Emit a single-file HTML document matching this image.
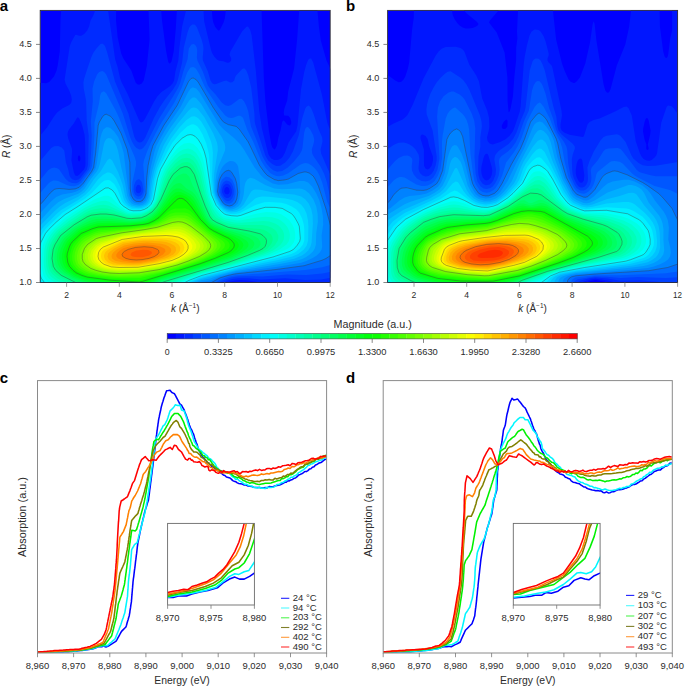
<!DOCTYPE html>
<html><head><meta charset="utf-8"><title>figure</title>
<style>html,body{margin:0;padding:0;background:#fff;width:685px;height:686px;overflow:hidden;font-family:"Liberation Sans",sans-serif}svg{display:block}</style>
</head><body>
<svg width="685" height="686" viewBox="0 0 685 686" font-family="Liberation Sans, sans-serif">
<rect width="685" height="686" fill="#fff"/>
<text x="-0.3" y="10.8" font-size="15.00" text-anchor="start" font-weight="bold" fill="#000">a</text>
<text x="346.0" y="11.0" font-size="15.00" text-anchor="start" font-weight="bold" fill="#000">b</text>
<text x="-0.3" y="382.8" font-size="15.00" text-anchor="start" font-weight="bold" fill="#000">c</text>
<text x="346.0" y="382.6" font-size="15.00" text-anchor="start" font-weight="bold" fill="#000">d</text>
<clipPath id="ca"><rect x="40.2" y="10.4" width="290.0" height="272.1"/></clipPath>
<g clip-path="url(#ca)">
<rect x="40.2" y="10.4" width="290.0" height="272.1" fill="#0000ff"/>
<path fill="#0016ff" d="M61.2 9.4l55 0-.2 11 1.7 17 3.5 16.1 2 4.7 8.1 12.2 4.3 12 1.6 1.8 2 .5 2.6-1.3 1.9-3 3.2-15 2.7-26-1.1-30 12.6 0 .9 11 4 30 2.2 11.3 1 1.9 1-.3 1.3-1.9 2.2-10 2.1-23 1.1-19 34.8 0 .8 9 .8 4 1.9 4.6 3 3.6 1-.1 1-1.2 3.4-6.9 1.2-4 1.2-9 35.5 0 2.3 68 1.7 25 3.4 28 2.3 13.7 1 3.1 2 2.4 1-.5 1.7-3.7 1.5-8 2.1-7 1.7-8.5 1-1.4 1 .3 2.9 3.6 2.1 1.2 1-.3 1-1.9 0-2-1-3.4-2-2.2-4-.2-.5-3.2 .7-4 2.8-8 1-9 5.9-23 3-29 2.2-30 18 0 1.7 18 1.8 13 5.7 20 4.7 10 0 214-78.8 0-6.2-1.5-7-.5-5 .5-4.4 1.5-190.6 0 0-201.6 7 .4 3-1.1 4.8-5.7 2.6-6 1.1-5 2.1-14 .7-32 .7-9zM79.2 155.3l-1 .8-.4 2.3 .4 2 1 1.1 1-1.2 .2-1.9-.2-1.7-.9-1.3z"/><path fill="#002bff" d="M95 10.4l.2-1 12.7 0 7.3 50 2.3 7 2.7 12 1.5 4 5.7 11 11.8 27.2 1 1.5 1 .5 2-1.2 2-2.9 8.9-17.1 3.2-5 3.9-4.1 9-6.3 2.3-2.6 1.6-3 1.3-9 2.9-11 1-12 2.8-22 4.2-17 17.1 0 .8 12 7 29 1 2.8 2 3.3 3 3.2 2 1 4 .5 4 1.6 2-.3 1.3-1.1 .6-1 .1-2-1.7-4 .9-3 11.8-20.2 4-4.2 1-.4 1 .2 2 3.3 1.5 5.3 4.2 36 3.3 39 2.7 18 6.6 26 2.7 4 3 1.5 3 .1 2-.5 2-1.3 1.7-1.8 2.1-4 3.6-10 7.6-11.2 1.3-5.8 3.5-36 3.2-17.4 2-7.2 2-5 1.5-1.4 1.5 .2 2 3.8 8.7 32 5.4 28 1.8 5 2.1 3.7 0 152.6-2.8 .7-32.4 0-5.8-1.5-6-.7-8-.2-15 .5-13-1.9-8-.5-5 .3-4.9 1-3.1 1.2-2.7 1.8-185.3 0 0-147.7 7.8-9.3 7-11 3.2-3.9 5-4 7-3.4 2-2.1 .6-3.6-.7-4-1.9-5-3.7-7-.9-4 5.1-33 1.5-4.2 4-7.3 1-.2 3 1.1 2-.1 3-1.8 3-3.4 1.9-4.1 1.4-6 2.8-5 1.5-4zM226.2 187.1l-1.5 1.3-.6 3 1.1 2.4 2 .8 1.8-1.2 .7-2-.5-2.7-1-1.2-1-.4zM77.2 117.5l-3.5 5.9-4.7 6-1 2-.5 3 .7 4 3.7 10 .2 3-.7 9 2.5 12 1.3 3 2 .6 2-1.2 4.8-5.4 1.2-2.7 .3-3.3-.4-22-.6-7-2.3-8.6-2-5.3-1-2.1-1-.9z"/><path fill="#0041ff" d="M192.7 24.4l1.5 0 1 .6 1.8 2.4 4.6 12 1.4 5 .5 4-.8 9 .2 3 5 11 2.6 9 1.7 2.8 2 1 2-.1 7-2.8 3-.7 4 1.8 2-.1 2.1-1.9 .7-3 1-2 6.2-6.5 2-.7 2 2 2 4.8 3 12.4 3.2 26 .3 8 .6 3 10 31 2.9 5 4 3.6 4 1.9 4-.2 5-3.1 4-4.5 3.7-6.7 5.8-16 3.5-17.2 3-9.5 1-1.8 2-1.4 1.7 .9 1.3 1.9 2.2 5.1 4.9 15 3.9 9 .3 4-1.9 8 .5 4 10.1 23.3 0 101.1-10 1.6-16 .6-20-1.7-24 1.1-13-1.1-10 0-6 .7-4.9 1.4-4.4 2-2.3 2-181.4 0 0-122.2 12-14.1 3-1.9 4-.3 3.5 1.5 2.6 3 1.6 12 2.3 6.8 1.3 6.2 1 2 1.7 1.8 3 1.1 3.4-.9 2.1-2 6.2-8 1.2-5 .6-29-2-15-.6-20-2.4-12-.3-6 .8-4 2.6-8 4.4-13 2-4.3 3-4.3 4-4.5 2-.9 2 1.5 1 1.7 2 6 7.8 28.8 13.4 32 5.8 23 1.4 3 1.6 2 2 1 2-.2 2-1.5 2-2.9 8.5-19.4 5.9-11 4.7-7 8.9-11.2 3.4-5.8 1.3-4 4.2-17 1.7-15 3.7-15 1.7-4.7 1-1.5 2-1.7zM225.2 184.2l-1.4 1.2-1.2 2-.6 3 .1 2 2.1 4 2 1.5 2 .2 2-1.4 1-1.7 .7-2.6-.1-3-1.8-4-1.8-1.3-2-.3zM137.2 185.2l-1.3 2.2-.2 3 .5 1.5 1 1.1 2 .3 1.8-1.9 .3-3-1.1-2.7-1-.8-1-.1z"/><path fill="#0057ff" d="M191.7 44.4l1.5-.4 1 .2 1.4 1.2 1.1 2 .5 3-.3 7 .5 3 5.4 11 5.1 14 2.3 3.4 5.4 5.6 6.1 8 3.5 2.8 3 .9 3-1 8-6.2 2-.1 1 .5 2 2.2 2 3.9 2 5.8 2.8 15.2 6.2 15.2 5.3 14.8 4 7 3.7 4.3 3 2.6 4 1.5 5-.9 5.6-3.5 6.1-6 5.7-7 2.2-4 .7-3 1.7-15 1-3.5 1-1.4 1-.5 1 .2 2 2.2 3 5.8 1 4.2-.3 3-2.1 7 .4 4 1.5 3 6.8 10 3.7 7.6 2.8 8.4 3.1 15 1.1 2.6 0 71.7-9 1.9-16 1.4-19-.4-25 1.8-16-.2-9 .4-6 1-7 2.1-4 2-2.8 2.7-178.2 0 0-103.1 9-11 3-2.1 3-.8 3 .8 2 1.4 6.1 8.8 3.2 3 3.7 1.7 4 .1 2-.7 2.5-2.1 8.3-11 1.1-4 1-14 .6-16-.9-14 2-20-.3-13 1.6-7 3.1-7.1 2-2.3 3-1 2 .9 2 2.5 16.6 39 7.1 23 2 5 2.3 4 2 2.3 3 1.7 2-.2 2-1.3 3-3.8 12.9-25.7 14.1-22.1 5.1-8.9 2-5 3-11 4.2-12 1.3-11 2.4-3.7zM225.2 180.9l-2 1.5-1.7 3-1 4-.1 3 1 3 2.8 3.9 2 1.5 2 .4 2-.7 2-2.3 1.4-3.8 .2-4-.9-4-1.7-3.3-2-1.9-3-.6zM138.2 179.2l-2 1.4-1 1.6-1.2 3.2-.4 4 .5 3 1 2 1.1 1.1 2 .9 2-.4 1.6-1.6 1-2 .5-3-1.1-6.3-1-2.1-2-1.8z"/><path fill="#006dff" d="M190.8 67.4l2.4-.5 2 1.1 1.3 1.4 2.7 4.7 5 11.3 2.7 5 11.3 16.7 7 8.4 3 2 3 .6 2-.3 5-2 2 0 2 1.1 1 1.3 3.9 11.2 6.1 12.4 7.8 18.6 4.2 6.8 5 5.7 3 1.9 3 1.2 3 .3 4-.7 5-2.3 12-8.6 3-1.3 2-.3 3 .5 3 1.6 3 2.5 3 3.5 2.3 4.2 2.7 7 5 19.3 2 4.5 2 3.2 0 55.4-9 2.5-17 2.7-71 5.5-6 1.3-7.6 2.6-3.3 2-3.4 3-174.7 0 0-90.2 9-10.4 2-1.7 3-1.5 2-.2 3 .6 8 3.8 4 1.2 4 .3 4-1.2 3.3-2.7 8.9-12 1.5-4 1.4-14 1.1-17 .1-13 4.5-19 1.2-8.1 1-2.6 2-1.3 1 .2 2 1.7 10 18.3 3 6.5 8.8 23.3 6.9 16 1.1 4 0 4-3.7 17-.2 9 1.1 3.7 2 2.7 2 1.2 3-.1 2-1.5 1-1.3 1.5-4.7 .1-5-1.6-22 .7-4 2.8-8 3.7-9 9.9-19 12.9-19.9 3-5.4 5.6-11.7 5.4-14.9 3-4.7zM225.2 177.1l-3 2.5-1.6 2.8-1.3 5-.3 5 1.2 3.7 3.5 5.3 2.5 1.9 3 .5 3-1.5 2-2.9 1.3-5 .1-4-1.2-6-2.2-4.6-3-2.6-3-.5z"/><path fill="#0082ff" d="M191.2 78.4l1-.4 2 .3 2 1.4 2 2.4 15 25.4 9 13.2 2 1.7 4 2.2 8 1.8 3 2.7 9 12.8 11.3 23.5 5 7 2.8 3 6.9 4.1 4 1.1 6-.6 4-.9 10-5.6 6-1.6 2 .1 3 1 4 3 4 7.3 4 10.3 9.1 30.8 .9 9.9 0 20.7-5.1 3.4-3.9 1.8-18 5.5-28 3.8-41 4.4-6.9 1.5-8.1 2.4-9 4.8-7 .7-3.6 1.1-161.4 0 0-79.2 3-2.6 8-9.6 4-3.5 2-.7 3-.3 10 .9 6-.5 4-1.6 4-4 8.5-11.9 2-4 2-15 2.5-26.8 1.5-4.2 3.5-5.5 1-1 2-.7 2 .6 3 2.2 3 3.9 7 12.6 6 15.9 2.2 10 .5 5 .3 24 .7 6 1.9 4 2.4 2.5 3 .8 3-.4 1.4-.9 1.6-2 1.6-4 1-17 1.3-12 2.8-13 2.1-7 10.8-20 13.4-20 11-23.4 1-1.7 2-1.9zM228.2 170.4l-2 .5-2 1.3-2 2.3-2 3.5-1.7 5.4-.9 8 .9 4 4.1 7 2.6 2.3 4 1.3 3-.7 3.2-2.9 1.5-4 .9-6-1.1-9-1.4-5-3.5-6-1.6-1.5-1.7-.5z"/><path fill="#0098ff" d="M193.2 87.4l3 1.1 3 3.6 20 32.7 4 4.2 11.4 9.4 5.6 5.9 4 5.7 10.4 17.4 6.5 8 3.1 3 8.5 5 5.5 1.4 9-.5 12-3.2 5-.1 4 1.6 4 4.1 4 6.6 3 6.8 2.4 8.3 1.3 8 .3 8-1.6 11 .6 11-.6 3-1.8 3-3.1 3-4.5 2.8-6 2.8-5 1.7-22 3.9-43 5.8-16.2 4-8.8 3.8-10 1.7-5.2 2.5-156.8 0 0-70.2 12-12.9 5-4.3 5.9-2.6 10.1-1.7 4-1.1 4-2.1 3.2-3.1 4.8-7.4 5.8-7.6 1.6-3 1.2-5 3.5-25 1.3-5 1.8-4 2.8-2.2 2 0 2 .8 4 3.4 4 5.8 3 7.2 2.4 8 5.1 41 .8 3 2.1 4 2.6 2.4 4 1 4-.7 3.1-2.7 1.9-4.9 1.5-16.1 2-12 3.8-16 2-6 10-18 13.8-20 7.9-15.4 2-2.9 2-1.5zM229.2 161.3l-3 1.6-2 1.8-2 2.6-2.2 4.1-2.8 9.3-.8 10.7 1.3 5 4.5 7.6 4 2.9 4 .9 2-.3 2.4-1.1 3.2-3 1.5-4 1-7-.7-16-1.5-10-.9-2-2-2.2-2-1-3-.1z"/><path fill="#00aeff" d="M193.1 97.4l1.1-.1 2 .9 5 5.7 14 23.2 6.8 10.3 2.7 6 .6 4-.3 3-6.8 16.4-1.7 6.6-1.1 8-.1 9 .5 4 2.4 5.3 2.8 4.7 4.2 3.5 4 1.5 2.4 0 2.6-.6 4.1-2.4 2.5-3 1.7-4 1.2-5 .8-8 1-4 1.8-3 2.9-1.6 4 .9 11 6.3 9 3.4 8 .8 17-.6 3 .5 3 1.2 4 3.2 4.2 5.9 2.8 6.9 1.4 7.1 .3 8-1.7 12-.3 11-1.1 4-1.9 3-3.1 3-3.6 2.5-4 2-5 1.7-16 3.2-45 7.3-17.4 4.3-8.6 3.1-9 1.8-5.3 2.1-3.3 2-153.4 0 0-63.3 2-1.7 11-12 6-5.1 6-3.3 14-5.3 3.5-2.3 3-3 6.5-10 5.6-7 1.6-3 1.6-5 3.8-19 1-3 1.4-2.2 2-1.3 3 .5 3 2.9 2.5 5.1 1.5 5 3.1 16 3.9 16 1.9 12 2 5 2.5 3 2.6 1.4 5 .6 4-.9 3-2.4 2.2-4.7 2-17 1.9-10 5.2-18 2.5-7 4.2-7.8 6-9.7 12-16.5 7-10.8 3-2.9z"/><path fill="#00c3ff" d="M193.9 107.4l2.3 .6 2 1.4 6 7.5 9.1 16.5 3.7 9 .7 4 .1 4-3.5 22-.5 8 .3 10 1.3 6 4.8 8.7 4 3.7 4 1.8 4 .3 5-1.2 3.6-2.3 2.9-3 7.5-12.9 2-1.5 2-.6 5 .3 16 3.4 18 1.4 7 2 4 2.7 3.5 4.2 2.5 5.5 1.4 6.5 .3 8-1.3 19-1.1 4-2.4 4-2.9 2.8-3.2 2.2-7.8 3.3-14 3-42 7.7-37 9.6-6.3 2.4-5.2 3-150.5 0 0-57.8 14.9-15.2 5.1-4.5 6-3.8 13-6.3 6.1-4.4 3.5-4 5.9-9 6.8-8 6.7-10.9 2-1.7 1 0 2 1.8 6 12 4.4 11.8 2.8 13 2.6 5 3.3 3 4.9 1.4 5-.2 4.8-2.2 2.2-2.5 1.5-3.5 2.4-18 2-9 2.4-8 7-18 6.7-11.4 8-11.1 10-12 3-2.6 2-.9z"/><path fill="#00d9ff" d="M192.1 116.4l2.1-.1 2 .6 2 1.4 3 3.2 5.3 8.9 4.5 11 1.2 5 .7 6-.8 24 1.1 16 2 6.1 2.5 4.9 2.1 3 3.4 3.2 4 2.2 4 .6 5-.3 4-1.5 3.5-2.2 11.5-9.8 3-1.3 4-.7 6 .2 17 1.8 7 1.4 5 2 4 2.8 3 3.7 2.3 4.9 1.5 7 .4 6-.3 14-1.4 5-2.8 4-5.7 4.6-6 2.6-14 3.3-37 7.5-24 6-17.9 5-9.1 3.9-3.2 2.1-147.8 0 0-52.3 4.9-5.7 12.1-12.1 5-4.4 17-9.9 7-5 4.6-4.6 8.4-11.1 5-4.5 4-2.2 2-.1 2 .7 2 1.5 3 3.9 4 8.2 3.6 12.6 1.7 3 2.8 3 3.9 2.2 6 .7 4-.6 4.7-2.3 2.6-3 1.7-4 2.8-19 2.9-11 9.3-21.4 5-8.4 8-10.8 7-7.6 5-3.5z"/><path fill="#00efff" d="M191.4 124.4l1.8-.1 2 .6 2 1.4 1.9 2.1 3.5 6 3.7 9 2.7 11 1.6 26 1.6 13 3.6 9 3.4 5 4 3.8 3 1.8 4 .9 5 .2 5-1 16-8.4 8-2.5 5-.2 12 .8 5 1.2 5.6 2.4 4.4 2.8 2.9 3.2 3 6 1.7 6 .5 5 0 11-1.4 4-3.1 4-4.6 3.9-4 1.8-15 4.1-36 8.2-10.1 3-27.9 6.9-12.9 5.1-4.9 3-143.2 0-2-2.5 0-43.5 4.5-7 2.5-3.1 16-15.2 23-14.7 7.2-6 8.8-9.5 3-2.1 2-.6 2-.1 2 .5 4 3.4 3.3 5.4 4.6 12 2.3 3 3.8 3.1 4 1.7 7 .3 4-.8 4.3-2.3 2.7-2.8 2-4.2 3.7-21 3-10 10.1-20 3.2-5.3 8-10 7-6.6 4-2.1z"/><path fill="#00fffa" d="M186.8 135.4l2.4-.7 2-.1 4 1.8 3 3.2 4 6.7 2.7 7.1 1 4 5.4 37 4.2 10 3.7 4.9 4 3.8 2 1.2 4 1.1 7 .7 4-.5 14-5.2 12-3.2 13 .5 5.1 1.7 5.9 3.4 3 2.5 4 6.3 2.1 4.8 .9 10-.2 4-1.4 3-4 5-2.4 1.9-2.3 1.1-14.9 5-73.8 19.2-12.4 4.8-7.3 4-135.6 0-4.5-6-2.2-5.7 0-24.5 1.3-4.8 2.4-5 2.6-5 3.3-4 7.4-7.2 9-7.7 14-8.8 24-16.5 3-1.4 3 .3 4 2.8 2 2.8 5.2 9.7 3.3 3 5.5 3.5 4 .9 7-.1 4-1.2 3.8-2.1 3-3 2.2-4.2 4.6-22.8 2.4-7.1 2-4.3 12-19.7 7-7.3 5-3.4z"/><path fill="#00ffe4" d="M184.8 143.4l4.4-.6 4 1.3 4 3.4 3.8 5.9 1.6 4 1.9 7 4.8 27 1.3 5 4.5 10 6.1 7.1 2.3 1.9 2.7 1.2 11 1.7 4-.5 15-4 10-1.7 9 .5 6 1.7 5 3.1 3 2.7 3.1 4.3 1.9 4 1 5-.1 5-1.4 4-3 4-2.7 2-3.9 2-12.4 5-32.5 9-10 3.2-28 7.1-14 5.3-9 4.4-127.1 0-4.4-4-1.6-2-1.6-3-1.6-7-.4-7 .8-13 1.1-5 2.8-6.1 2.4-3.9 4.5-5 13.1-11.4 18-11.7 11-6.2 9-3.4 4 0 3 1.4 8 8.4 5.7 3.9 4.3 2.2 4 .5 7-.2 3-.8 5-2.6 3.4-3.1 2.7-5 5-22 2.1-6 2.3-5 6.5-10 6-7.9 4-3.6 4-2.3z"/><path fill="#00ffce" d="M183.3 149.4l4.9-.8 4 1.2 4 3.3 2.9 4.3 2.1 4.8 2 6.7 4.7 22.5 1.6 6 4.4 10 6.6 8 2.7 2 3 1.1 11 2 4-.2 14-2.6 10-1 7 .5 6 1.8 3 1.7 3.3 2.7 2.7 3.3 1.8 3.7 .9 4-.3 4-1 3-2.1 3-6.8 5-11.5 5.4-39 11.8-29 7.5-14.3 5.3-11.5 5-117.1 0-8.4-6-1.7-2-1.5-3-1.5-6-.4-7 .6-11 1.1-5 2.2-5 3.1-5 4.4-5.1 12-10 17-11.2 8-4.2 8-2.6 5-.5 4 .9 12.1 7.7 5.9 3 3 .9 10-.2 3-.9 5-2.5 3.9-3.3 3.4-6 5.7-22 4-9.5 5-7.3 5-6.1 4-3.8 4-2.3z"/><path fill="#00ffb8" d="M182.4 154.4l3.8-1 4 .6 4 2.6 3 3.8 2 4 2.4 7 5.1 22 1.9 6 3.9 9 3.2 5 2.7 3 5.8 3.5 10 2.5 7 .3 22-1.8 6 .6 5.9 1.9 3.1 1.9 2.4 2.1 2.1 3 1.2 3 .3 3-.5 3-1.5 3-1.5 2-3.4 3-4.3 3-7.8 3.7-36 11.4-29.4 7.9-25.1 9-4.5 2-106.2 0-8.8-4.6-4.4-3.4-2.8-4-1.7-6-.4-8 .7-9 1.3-5 2.3-4.9 3.3-5.1 3.7-4.1 12-9.6 15-10 6-3 7-2.1 6-.8 5 .7 17.6 7.9 4.4 1.2 10-.3 4-1.3 4-2.1 4.3-3.5 3.7-6 2.4-7 4.5-16 3.6-8 3.5-4.9 5-5.8 4-3.5 3-1.7z"/><path fill="#00ffa3" d="M182.8 158.4l3.4-.7 4 .8 3 2.1 3 3.9 4 9.7 4.7 19.2 3 9 4.3 9.6 2 3.3 1.9 2.1 6.8 4 8.3 2.7 9 .9 22 0 5 .9 4 1.5 3 1.8 2 2 2.1 4.2 .1 2-.5 3-3.2 5-5.9 5-6.4 3-33.2 11-31 8.6-27.6 9.4-4.7 2-96 0-12.3-6-5.4-4.3-2.5-3.7-1.4-5-.5-7 .8-8 1.2-5 1.9-4 3.7-6 3.8-4.3 11.3-8.7 13.7-9 5-2.7 5-1.4 7-1 6 .3 6 1.6 13 4.9 5 .9 10-.7 7-3.2 5-4.1 4.1-6.6 2.4-6 5.1-16 3.4-7.3 7-8.5 4-3.3 3-1.7z"/><path fill="#00ff8d" d="M183.1 162.4l4.1-.4 3 1 2.8 2.4 2.2 3.5 3 7 4.6 17.5 3.1 9 5.2 12 2.6 4 6.5 3.7 9 3.6 9 1.4 22 1.9 4 1 3 1.4 3.8 3 1.2 2 .5 2-.1 2-1.1 3-3.9 5-4.9 3-31.5 11.2-33 9.5-31.9 10.3-4.4 2-86.8 0-14.9-7.1-3.9-2.9-3-3-2.3-4-.8-5-.3-6 1-7 1.2-4 3.3-6 2.8-4.3 3-3 11-8.4 12-7.7 4-2.3 4-1.3 9-1.1 5 .1 8 1.5 13 3.9 4 .5 10-.8 6-2.6 6-4.4 4.3-6.1 2.9-6 6.8-18.2 3-5.8 6.4-7 5.6-3.7z"/><path fill="#00ff77" d="M181.8 167.4l3.4-.9 3 .5 2.1 1.4 2.9 4 2 4.1 3.6 11.9 6.5 18 4.6 10 2.3 3.3 4.4 2.7 11.6 4.9 22 3.9 8 1.8 3 1.3 3.7 3.1 1.6 3-.5 4-1.7 3-2.7 2-8.9 4-21.4 8-66.2 20-3.9 1.5-2.5 1.5-79.2 0-17.3-8.5-3.5-2.5-3.8-4-1.7-3.3-1.1-6.7 0-4 1-6 1.5-4 3.9-7 2.2-3 2.5-2.3 12-9.1 12-7.2 4-1.6 9-1.2 6 0 8 1 13 3.3 4 .3 10-.8 6-2.5 6-4.3 4.3-5.6 3.4-6 7.3-16.7 4-7.3 5-5 4-2.7z"/><path fill="#00ff62" d="M183.5 173.4l2.7 .4 3 2.8 3.5 8.8 5.5 9 8.7 20 2.1 4 2.2 2.7 3.7 2.3 12.3 5.4 19 4.4 9 3.3 3 2.1 2 2.8 .4 3-1.9 3-8.3 5-19.2 7.8-68 20.6-4.3 1.6-3.1 2-71.6 0-13-5.7-6-3.3-4.3-3-3.6-4-2-4-1-6 .5-6 1.4-5 6-10.5 11-9.2 14-8.3 3-1.4 4-.9 8-.7 8 .3 20 3.2 10-.6 5-1.5 7-4.4 4.7-5 4.5-7 7.8-15.3 5-7.1 4-3.4 5-2.2z"/><path fill="#00ff4c" d="M177.2 183.4l2-.3 2 .5 5.3 4.8 5.7 3.4 2.7 2.6 3.3 5.3 7.8 16.7 2.6 4 1.9 2 3.7 2.4 11 4.8 16.1 4.8 7.9 3.4 3.6 2.6 1.3 2 .3 2-1.5 3-2.3 2-4.9 3-13.5 6-31.4 10-38.6 11.5-6.3 2.5-3.1 2-60.8 0-8.8-2.4-11-4.5-8-5-4-4.1-2.2-4-1.2-5 .1-5 1.4-6 2.9-6 3-4.5 11-9.3 5-3.2 8-4 4-1.5 4-.8 7-.4 8 .3 19 2.2 10-.7 5-1.2 6-3.4 5-4.6 5.6-7.9 8.4-14.2 3-3.4 3-2z"/><path fill="#00ff36" d="M176.9 188.4l2.3 0 2 .6 9 5 3 2.5 3 4.2 8.6 16.7 2.9 4 3.1 3 3.4 2 10 4.5 15.5 5.5 6.6 4 1.7 2 .6 2-.5 2-1.4 2-5.3 4-10.4 5-30.6 10-39.2 11.6-6.2 2.4-5.5 3-45.6 0-15.7-2.7-6-1.6-9-3.7-7.3-5-3.6-4-2-4-1.1-5 .3-5 1.4-5 2.9-6 2.4-3.5 11-9.5 4-2.4 8-3.6 8-2.2 13-.3 20 1.5 11-.8 5-1.2 5.3-3 4.7-4 4.7-6 9.3-14.1 3-3.2 3-1.6z"/><path fill="#00ff21" d="M175.6 192.4l2.6-.6 3 .4 5 2.2 4 2.7 4 4.7 8.8 15.6 5.2 6.4 3 2.5 3 1.6 10 4.6 10.1 3.9 5.2 3 2.3 2 1.3 2 .3 2-1.4 3-4.8 4-8 4-29.5 10-40.2 12-7.9 3-6 3-28.5 0-29.9-4.4-5.6-1.6-7.4-3.2-5.4-3.8-3.9-4-2-4-1.1-5 .1-4 1.3-5 2.6-6 1.9-3 10.5-9.5 4-2.3 7-2.9 8-2.5 11-.4 22 .8 12-1 5-1.2 5.4-3 4.9-4 3.3-4 10.4-14.5 4-3.3z"/><path fill="#00ff0b" d="M176.6 195.4l2.6-.6 3 .4 4 1.9 2.8 2.3 3.3 4 9.4 15 4.5 5.2 4 3.7 11 5.6 10.4 4.5 4.4 3 1.8 2 .9 2-.1 2-1.8 3-3.6 3-3 1.7-17 6.5-17 5.7-38 11.4-18.6 6.7-4.5 0-24.9-2.7-24-3.3-11-4.4-4.7-3.6-3.6-4-1.6-4-1-6 .6-4 2.1-6 1.4-3 2.2-3 9.6-8.6 12-5.1 6-1.6 10-.4 22 0 13-1.2 4.7-1.1 5.8-3 5.1-4 13.4-16.5 4-3.3z"/><path fill="#0bff00" d="M179.4 198.4l1.8-.1 2 .6 3.4 2.5 4.6 5.4 9.2 12.6 8.8 8.8 4 2.5 15.6 7.7 2.7 2 2.4 3 .4 2-.5 2-2.3 3-2.9 2-13.8 6-15.6 5.7-56 17.1-4 .8-29-1.8-23-3.1-5.3-1.7-5.7-2.6-3-2.4-3.7-4-1.7-4-.8-6 .3-3 1.9-6 1.3-3 1.7-2.5 9-8.4 11-4.7 6-1.8 32-1.2 13.6-1.4 4.6-1 6.3-3 4.4-3 16.1-16.3 2-1.7 2-1z"/><path fill="#21ff00" d="M181.5 208.4l3.7-.2 4 1.7 4 3.7 6.8 7.8 8.2 7.8 18.8 11.2 1.8 2 .9 2-.1 2-.9 2-2.5 2.2-10.7 5.8-16.3 6.5-37 11.3-19 5.2-4 .7-29-1.2-22-3-5-1.6-6-2.9-3.3-3-2.8-4-1.2-4-.3-5 2.6-9 1.7-3 2.7-3 4.1-4 3-2 10.5-4.3 5-1.3 32-2.1 17-2.2 5.4-2.1 4.6-2.5 10-8.1 3-1.9 4-1.3 6-.2z"/><path fill="#36ff00" d="M171.2 213.4l4-.8 9 0 3 .5 3 1.5 17 15.7 15.1 10.1 1.9 2 .8 2-.6 3-2.9 3-7.3 4.8-15 6.5-20 6.5-16 4.6-23 5.3-18 .1-10-.4-11-1.2-11-1.8-5-1.4-6.2-3-2.8-2.4-2.6-3.6-1.2-4-.3-4 .5-4 1.3-4 1.5-3 3.1-4 3.7-3.6 3-1.9 8-3.5 6-1.8 33-3 16-2.1 10.3-4.1 11.7-7.6z"/><path fill="#4cff00" d="M174.2 215.4l6-.2 5 .4 3 1 3 1.8 14.9 13 12.2 9 1.6 2 .8 2-.1 2-1.1 2-2.8 3-4.5 3.1-9 4.4-8 3-18 5.9-15 4.2-22 4.5-22 .4-11-.8-9-1.2-9-1.9-5-1.9-5-3-3-3.7-1.4-4-.3-4 .5-4 1.4-4 2.4-4 2.5-3 2.9-2.4 4.5-2.6 6.5-2.9 5-1.2 40-4.7 9-1.5 8.2-2.7 11.8-6.5 5-1.5z"/><path fill="#62ff00" d="M177.6 217.4l6.6 .5 5 2 24.5 19.5 2.6 3 .7 2-.3 3-2.1 3-3.7 3-7.4 4-17.3 6.6-12 3.8-13 3.5-21 3.7-21 .7-10-.5-9-1.1-9-2.1-4.3-1.6-5.7-3.4-2.9-3.6-1.2-4-.1-4 .8-4 1.8-4 1.9-3 3-3 8.7-5.2 5-1.8 7-1.3 44-6.1 10-2.9 11-5.3 7-1.4z"/><path fill="#77ff00" d="M172.3 220.4l4.9-.8 5 .2 4 1.2 5 3 15.7 12.4 5.3 5 1.2 2 .5 2-.4 2-1.1 2-3.1 3-7.1 4.2-17.4 6.8-10.6 3.4-13 3.4-21 3.6-21 .8-10-.5-8-1.1-8-2-4.3-1.6-5.7-3.6-2.7-3.4-.9-4 0-4 .7-3 2-4 3.9-4.6 9-5.6 5-1.5 20-3.7 30-4.3 9.3-2.3 12.7-5z"/><path fill="#8dff00" d="M173 222.4l5.2-.7 4 .4 4 1.5 5 3 12.7 9.8 4.9 5 1.3 2 .6 2-.3 2-1 2-3.3 3-6.5 4-11.4 4.7-11 3.9-17 4.4-21 3.4-20 .7-9-.4-8-1.1-6.1-1.6-5.3-2-5.6-4-2.2-3-.7-3 0-4 2.2-6 3.1-4 8.6-5.8 5-1.5 20-4.2 23-3.2 13-2.4 15-4.7z"/><path fill="#a3ff00" d="M173.9 224.4l5.3-.4 5 1.2 5 2.7 10 7.5 4.6 4 2.9 4 .6 3-1.3 3-3.1 3-4.5 3-11.3 5-11.1 4-16.8 4.3-21 3.1-20 .7-8-.4-8-1.3-7-2.2-4-2.1-3.6-3.1-2-3-.6-3 0-3 .8-3 1.4-3 1.5-2 3.4-3 6.1-3.8 23-5.6 37-5.6 15-3.9z"/><path fill="#b8ff00" d="M169 227.4l6.2-.9 5 .1 4 1.3 5 2.7 9 6.8 3.9 4 1.7 4-.2 2-1 2-2.9 3-4.8 3-8.3 4-11.4 4.3-16 4-21 3.2-21 .6-7-.5-7-1.2-6-2-4.4-2.4-3.1-3-1.6-3-.5-5 1.8-5 4.4-5 5.4-3.4 23-6.1 37-5.3 9-2z"/><path fill="#ceff00" d="M169.1 229.4l6.1-.5 5 .3 4 1.4 5 2.8 6.4 5 3.5 4 .9 2 .2 2-1.1 3-2.8 3-6.4 4-8.7 4-7 2.6-15 3.7-21 3.3-21 .5-6-.4-6-1-5-1.6-4.2-2.1-3.5-3-1.8-3-.6-4 1.3-5 4.1-5 4.8-3 22.9-6.7 23-3.3 14-1.5 8-1.4z"/><path fill="#e4ff00" d="M169.8 231.4l6.4-.1 4 .6 5 1.9 4.1 2.6 4.4 4 2.5 4 .1 3-1.6 3-3.2 3-4.6 3-6.1 3-7.8 3-13.8 3.3-22 3.5-20 .3-10-1.1-5-1.5-4-2.1-2.9-2.4-2-3-.7-4 .6-3 .9-2 3.1-4 5-2.9 17-5.7 5-1.2 21-2.9 24-2.3z"/><path fill="#faff00" d="M153.3 234.4l16.9-.9 7 .6 4 1 5 2.4 4.2 3.9 2 4-.3 3-1.9 3-3.2 3-6.9 4-6.9 2.8-14 3.5-21 3.5-20 .3-9-.8-4.4-1.3-4-2-2.6-2-2.2-3-.8-4 1-4 2.9-4 3.1-2 21-7.4 20-2.8 10-.8z"/><path fill="#ffef00" d="M143.5 236.4l22.7-.9 6 .5 6 1.1 5 2.2 2.7 2.1 2.2 4 0 3-1.3 3-3.1 3-4.7 3-6.8 3-13 3.3-21 3.6-19 .2-8-.6-7.1-2.5-2.9-2-2.4-3-.8-3 .6-4 1.8-3 2.8-2.3 19-7.7 21-3z"/><path fill="#ffd900" d="M157.2 237.4l12 .5 6 1.2 3.4 1.3 3.1 2 1.6 2 1 3-.5 3-1.3 2-3.3 3-3.4 2-5.6 2.4-14 3.5-19 3.2-19-.2-7-.8-3.3-1.1-3.5-2-2-2-1.1-2-.4-2 .4-3 .9-2 1.8-2 16.5-8 4.7-1.3 16-2.1 16-.6z"/><path fill="#ffc300" d="M141.3 239.4l19.9-.1 5 .4 5 1.1 4.4 1.6 2.9 2 1.8 3-.2 3-1.1 2-1.9 2-3 2-4.9 2.3-14 3.7-17 3-11 .1-14-1.1-5.1-2-3.1-3-.8-2-.2-2 1.1-3 2-2 4.9-3 7.2-3.8 4-1.5 18-2.7z"/><path fill="#ffae00" d="M136.9 241.4l7.3-.6 7 0 9 .4 6 .9 4.2 1.3 3.6 2 1.7 2 .4 3-1 2-1.9 2-6 3.3-12.7 3.7-15.3 2.8-8 .3-14-1.1-5-1.3-3.6-2.7-1.1-3 .7-2.8 1.9-2.2 4.1-3 9-4.6 13-2.3z"/><path fill="#ff9800" d="M134.4 243.4l12.8-.9 14 1.2 4 1 3.6 1.7 2 2 .5 2-.7 2-2 2-5.9 3-9.3 3-12.2 2.3-8 .6-11-1-7-1.6-3.1-2.3-.6-2 .4-2 1.3-2 3.5-3 7.5-3.9 10-2.1z"/><path fill="#ff8200" d="M144.1 244.4l9.1 .5 7.1 1.5 3.9 2 1 1.3 .2 1.7-2.3 3-5.4 3-7.5 2.4-10 1.7-8 .2-9-1.2-5-1.9-1.9-2.2 .1-2 1.3-2 2.1-2 3.4-2.1 8-2.4 12-1.5z"/><path fill="#ff6d00" d="M135.8 247.4l8.4-.7 8.2 .7 5.1 2 1.1 1 .4 2-1.4 2-3.4 2.2-5.2 1.8-6.8 1.2-6 .4-6.6-.6-3.8-1-3.2-2-.5-2 1.1-2 1.2-1 3.8-2 7-1.9z"/><path fill="#ff5700" d="M137 250.4l6.2-.7 5 .4 3 1.3 .7 1-.1 1-2.6 2.1-7 1.8-7-.2-2.6-.7-1.6-1-.5-1 1.4-2 4.3-1.8z"/>
<path fill="none" stroke="#3a3a3a" stroke-opacity="0.75" stroke-width="0.55" d="M228.2 170.4l-2 .5-2 1.3-2 2.3-2 3.5-1.7 5.4-.9 8 .9 4 4.1 7 2.6 2.3 4 1.3 3-.7 3.2-2.9 1.5-4 .9-6-1.1-9-1.4-5-3.5-6-1.6-1.5-1.7-.5zM39.2 205.2l3-2.6 8-9.6 4-3.5 2-.7 3-.3 10 .9 6-.5 4-1.6 4-4 8.5-11.9 2-4 2-15 2.5-27 1-3 3-5.1 2-2.4 2-.7 4 1.9 2 1.9 2 2.9 6.9 12.5 6.1 16 2.6 13 .4 26 1 7 2.3 4 2.7 2 4 .2 2.4-1.2 2.1-3 1.3-4 .7-15 1.4-13 2.8-13 2.1-7 10.8-20 13.4-20 11.4-24 2.6-3 2-.4 3 1.7 2 2.4 15 25.4 9 13.2 2 1.7 4 2.2 8 1.8 3 2.7 9 12.8 11.3 23.5 5 7 2.8 3 6.9 4.1 4 1.1 6-.6 4-.9 10-5.6 6-1.6 2 .1 3 1 4 3 2 3.2 3.3 7.2 7.3 22 4.7 17 .7 8.9M331.2 255l-5.1 3.4-3.9 1.8-18 5.5-28 3.8-41 4.4-6.9 1.5-8.1 2.4-9 4.8-7 .7-3.6 1.1M39.2 248.2l1.7-5.8 4.6-9 3.3-4 7.4-7.2 9-7.7 13-8.2 27-18.2 3-.3 4 2.2 2.8 3.4 5.4 10 3.3 3 5.5 3.5 4 .9 7-.1 4-1.2 4-2.2 2.8-2.9 2.5-5 4.1-21 3-9 8.6-15.3 5.7-8.7 7.3-7.2 5-3 3-.6 2 .3 3 1.5 3 3.2 3.1 4.8 2.9 6.9 1.9 7.1 5.2 36 4.8 11 5.1 5.9 3 2.5 2 .9 5 1 6 .4 3.6-.7 13.4-5 11-3.1 10 .1 7 1 9 5.1 2.1 1.9 1.9 2.8 2.9 5.2 1.2 3 1 12-.6 3-2.6 4-3.6 4-3.6 2-16.7 5.5-71.2 18.5-13.2 5-7.3 4M45.9 284.4l-4.5-6-2.2-5.7M79.5 284.4l-18.3-9.1-5.5-4.9-2.4-4-1.3-8 1.1-9 2-5 5.6-9 13.5-10.7 13-7.9 4-1.6 9-1.2 6 0 8 1 13 3.3 4 .3 10-.8 5-2 6-3.9 4.7-5.5 4-7 8.3-18.7 3.8-6.3 7.2-6.2 4-1.5 3 0 3.1 1.7 4 6 6.5 20 4.5 12 4.6 10 2.3 3.3 4.4 2.7 11.8 5 20.8 3.6 11 2.8 2.6 1.6 2.9 3 .8 2-.2 3-1.2 3-1.9 2-3.6 2-12 5-19.4 7-63.1 19-3.9 1.5-2.5 1.5M179.4 198.4l1.8-.1 2 .6 3.4 2.5 4.6 5.4 9.2 12.6 8.8 8.8 4 2.5 15.6 7.7 2.7 2 2.4 3 .4 2-.5 2-2.3 3-2.9 2-13.8 6-15.6 5.7-56 17.1-4 .8-29-1.8-23-3.1-5.3-1.7-5.7-2.6-3-2.4-3.7-4-1.7-4-.8-6 .3-3 1.9-6 1.3-3 1.7-2.5 9-8.4 11-4.7 6-1.8 32-1.2 13.6-1.4 4.6-1 6.3-3 4.4-3 16.1-16.3 2-1.7 2-1zM173 222.4l5.2-.7 4 .4 4 1.5 5 3 12.7 9.8 4.9 5 1.3 2 .6 2-.3 2-1 2-3.3 3-6.5 4-11.4 4.7-11 3.9-17 4.4-21 3.4-20 .7-9-.4-8-1.1-6.1-1.6-5.3-2-5.6-4-2.2-3-.7-3 0-4 2.2-6 3.1-4 8.6-5.8 5-1.5 20-4.2 23-3.2 13-2.4 15-4.7zM143.5 236.4l22.7-.9 6 .5 6 1.1 5 2.2 2.7 2.1 2.2 4 0 3-1.3 3-3.1 3-4.7 3-6.8 3-13 3.3-21 3.6-19 .2-8-.6-7.1-2.5-2.9-2-2.4-3-.8-3 .6-4 1.8-3 2.8-2.3 19-7.7 21-3zM135.8 247.4l8.4-.7 8.2 .7 5.1 2 1.1 1 .4 2-1.4 2-3.4 2.2-5.2 1.8-6.8 1.2-6 .4-6.6-.6-3.8-1-3.2-2-.5-2 1.1-2 1.2-1 3.8-2 7-1.9z"/>
</g>
<rect x="40.2" y="10.4" width="290.0" height="272.1" fill="none" stroke="#2a2a3a" stroke-width="0.9"/>
<line x1="36.0" y1="282.5" x2="40.2" y2="282.5" stroke="#555" stroke-width="0.7"/>
<text x="31.9" y="285.0" font-size="9.40" text-anchor="end" font-weight="normal" fill="#2b2b2b" textLength="12.6" lengthAdjust="spacingAndGlyphs">1.0</text>
<line x1="36.0" y1="248.5" x2="40.2" y2="248.5" stroke="#555" stroke-width="0.7"/>
<text x="31.9" y="251.0" font-size="9.40" text-anchor="end" font-weight="normal" fill="#2b2b2b" textLength="12.6" lengthAdjust="spacingAndGlyphs">1.5</text>
<line x1="36.0" y1="214.5" x2="40.2" y2="214.5" stroke="#555" stroke-width="0.7"/>
<text x="31.9" y="217.0" font-size="9.40" text-anchor="end" font-weight="normal" fill="#2b2b2b" textLength="12.6" lengthAdjust="spacingAndGlyphs">2.0</text>
<line x1="36.0" y1="180.5" x2="40.2" y2="180.5" stroke="#555" stroke-width="0.7"/>
<text x="31.9" y="183.0" font-size="9.40" text-anchor="end" font-weight="normal" fill="#2b2b2b" textLength="12.6" lengthAdjust="spacingAndGlyphs">2.5</text>
<line x1="36.0" y1="146.4" x2="40.2" y2="146.4" stroke="#555" stroke-width="0.7"/>
<text x="31.9" y="148.9" font-size="9.40" text-anchor="end" font-weight="normal" fill="#2b2b2b" textLength="12.6" lengthAdjust="spacingAndGlyphs">3.0</text>
<line x1="36.0" y1="112.4" x2="40.2" y2="112.4" stroke="#555" stroke-width="0.7"/>
<text x="31.9" y="114.9" font-size="9.40" text-anchor="end" font-weight="normal" fill="#2b2b2b" textLength="12.6" lengthAdjust="spacingAndGlyphs">3.5</text>
<line x1="36.0" y1="78.4" x2="40.2" y2="78.4" stroke="#555" stroke-width="0.7"/>
<text x="31.9" y="80.9" font-size="9.40" text-anchor="end" font-weight="normal" fill="#2b2b2b" textLength="12.6" lengthAdjust="spacingAndGlyphs">4.0</text>
<line x1="36.0" y1="44.4" x2="40.2" y2="44.4" stroke="#555" stroke-width="0.7"/>
<text x="31.9" y="46.9" font-size="9.40" text-anchor="end" font-weight="normal" fill="#2b2b2b" textLength="12.6" lengthAdjust="spacingAndGlyphs">4.5</text>
<line x1="66.6" y1="282.5" x2="66.6" y2="286.8" stroke="#777" stroke-width="0.7"/>
<text x="66.6" y="298.1" font-size="9.00" text-anchor="middle" font-weight="normal" fill="#2b2b2b" textLength="4.8" lengthAdjust="spacingAndGlyphs">2</text>
<line x1="119.3" y1="282.5" x2="119.3" y2="286.8" stroke="#777" stroke-width="0.7"/>
<text x="119.3" y="298.1" font-size="9.00" text-anchor="middle" font-weight="normal" fill="#2b2b2b" textLength="4.8" lengthAdjust="spacingAndGlyphs">4</text>
<line x1="172.0" y1="282.5" x2="172.0" y2="286.8" stroke="#777" stroke-width="0.7"/>
<text x="172.0" y="298.1" font-size="9.00" text-anchor="middle" font-weight="normal" fill="#2b2b2b" textLength="4.8" lengthAdjust="spacingAndGlyphs">6</text>
<line x1="224.7" y1="282.5" x2="224.7" y2="286.8" stroke="#777" stroke-width="0.7"/>
<text x="224.7" y="298.1" font-size="9.00" text-anchor="middle" font-weight="normal" fill="#2b2b2b" textLength="4.8" lengthAdjust="spacingAndGlyphs">8</text>
<line x1="277.5" y1="282.5" x2="277.5" y2="286.8" stroke="#777" stroke-width="0.7"/>
<text x="277.5" y="298.1" font-size="9.00" text-anchor="middle" font-weight="normal" fill="#2b2b2b" textLength="9.0" lengthAdjust="spacingAndGlyphs">10</text>
<line x1="330.2" y1="282.5" x2="330.2" y2="286.8" stroke="#777" stroke-width="0.7"/>
<text x="330.2" y="298.1" font-size="9.00" text-anchor="middle" font-weight="normal" fill="#2b2b2b" textLength="9.0" lengthAdjust="spacingAndGlyphs">12</text>
<text x="185.2" y="311.5" font-size="10" text-anchor="middle" fill="#2b2b2b"><tspan font-style="italic">k</tspan> (Å<tspan font-size="6.5" dy="-3.6">−1</tspan><tspan dy="3.6">)</tspan></text>
<text transform="translate(9.7 146.4) rotate(-90)" x="0" y="0" font-size="10" text-anchor="middle" fill="#2b2b2b"><tspan font-style="italic">R</tspan> (Å)</text>
<clipPath id="cb"><rect x="387.6" y="10.4" width="290.0" height="272.1"/></clipPath>
<g clip-path="url(#cb)">
<rect x="387.6" y="10.4" width="290.0" height="272.1" fill="#0000ff"/>
<path fill="#0016ff" d="M413.9 9.4l38.5 0-.2 3 .7 3 1.9 4 2.8 4 2 2.1 3 2 3 .9 3 .2 4-.5 3-1.3 2-1.4 .7-1 0-1-1.8-2-9.7-8-3.6-4 36.2 0-9.5 11-.9 2 7.7 10 7.9 20 2.8 25 .2 24.2 1 10.7 1-.8 1-3 2.3-12.1 1.5-20 1.7-16 .1-13 1.2-9-.4-7 1.1-22 34.7 0 3.3 30 5.9 24 2.6 7.4 4 8.6 2 2.3 3 1.4 1-.1 2-1.4 3.3-4.2 5.4-14 4.7-21 2.6-18 1-3.1 1 2.5 1.8 16.6 7.2 44 1.7 6 1.3 1.9 1 .5 1-.3 .9-1.1 1.1-2.4 6.2-23.6 8.5-21 3.9-18 2-17 28.4 0 .3 17 3.3 25 1.4 5.1 1 1.3 1 .3 1-1.3 .6-2.4 2-16 1.9-8 0-21 6.5 0 0 275-66.2 0-8.3-3-8.5-1.3-6.6 1.3-3.4 1.5-2.2 1.5-196.8 0 0-210.1 9 6.4 3 1.5 2-.2 1-.6 2-2 1.7-3 2.6-8 1.3-6 2.9-33 1.7-12 .1-7zM505.6 120.1l-2 1.8-1.8 3.5 0 2 .8 1.3 1 .4 2-.4 1.8-2.3 .2-5.6-1-1.2zM646.6 117.9l-1 1.1-1 3-1.4 6.4-.2 3 1.6 8.3 1.8 4.7-.2 4 .4 1 1 .5 .8-.5 .3-1-.9-4 2.4-10 .4-4-1.9-10-1.1-2.2z"/><path fill="#002bff" d="M535.5 29.4l3.1 .6 2 1.6 3 4.7 2 5.1 3.1 12 0 2-1.2 3 0 2 1.1 2 3 3 .8 2 9.1 43 .5 5-1.5 9 .1 3.6 1.1 2.4 2.9 2.4 5 1.9 13 2.4 1-.6 .5-1.1 3.4-11 2.1-2.5 4-1.8 6-1.7 16-7.1 8-4.2 3-.6 2 1.7 3.2 7.2 4 26 4.2 12 1.5 3 2.1 2.5 3 1.6 3 .3 2-.8 3-2.5 1.6-2.1 .8-2 4.3-31 5.3-15.5 1-1.2 1-.3 3 .9 2 1.7 3 4.4 2 2.1 0 169.9-36.7 0-7.3-.5-12 .4-14.8-3.9-12.2-1.7-4.9 .7-6.8 2-2.3 1.1-2.1 1.9-192.9 0 0-157 7-4 9-4 3-2.3 2-2.4 5-9.7 10.9-26.6 12.1-22.7 3-4.3 3-2.7 4-1.8 10-.2 5 1.3 2.1 1.4 1.7 2 4.8 13 7.1 11 2.7 6 3.2 17 5 12 1.8 7 .4 9-.6 4-1.8 7 .6 3.5 2 2.5 3 1 7-2.1 6-3.1 4-3.4 3.1-4.4 1.9-4.3 5.2-15.7 .8-5 3.1-42 .9-7.2 2.3-11.8 2.7-10.2 2-3.6 3-2zM578.6 159.4l-1 1.5-1 3.3-.8 5.2 0 4 .8 3.7 2 3.9 1.4 1.4 1.6 .4 1-.5 1.2-1.9 .5-5-2-15-.7-1.4-1-.5-1 .2zM421.6 134.8l-1 1.3-.1 2.3 3.4 11 .1 16 1.4 3 2.2 1 2-1 2.1-3 1.3-5-.1-4-3.7-10-1.6-7.3-2-3-3-1.5zM485.6 154.1l-1 1.2-1 2.4-2 8.4-.4 4.3 .4 3.4 1.2 3.6 1.8 2.3 2 .7 2-.7 2-2.3 1.2-3 .5-4-.7-4-3.2-11-.8-1.4-1-.3z"/><path fill="#0041ff" d="M535.8 58.4l2.8 .3 2 1.8 2 4 2.2 5.9 8.8 37 2.7 9 1.1 10 1.1 4 3.1 4.2 10.9 8.8 2.3 3 .1 2-2.3 6.7-.8 4.3 .4 11 .5 4 1.2 4 2.4 5 2.3 3 2 1.1 2 0 2.2-1.1 1.8-2.2 1.1-2.8 .3-3-.6-11 1.9-6 4.5-10 6.8-11.2 3-3.2 3-1.2 10-1.5 2 .4 2 1.4 5 6 5.9 13.3 1.8 3 5.3 4.6 4 2.3 5 .8 8-.3 23-3.8 0 120.4-13 .2-26-2.4-19 .6-13-2.2-12-1.1-6 .8-8.7 2.1-3.3 1.8-1.5 2.2-189.5 0 0-134.5 7-4.9 5-2.2 5-.2 3 .7 3 1.3 3 2 3 2.9 3 4.9 .7 4-.8 10 .7 3 1.1 2 2.3 2.2 3 1 3-.5 3-2.3 2.2-3.4 1.8-4.8 1-5.2 .1-4-4.1-26-5.9-16-.3-5 .6-5 1.3-5 2.2-6 3.1-6 3-4.8 4-4.9 4-3.8 3-2.1 3-.5 10 6.4 3 2.8 2.9 3.9 3.2 6 10.3 25 1.5 6 .4 5-1.6 11 .1 9-1.9 10-.4 13 .3 5 1.3 5 2.9 4.3 3 1.5 2-.1 2-.7 2-1.7 1.7-2.3 2.3-6 .4-5-1.7-10 .5-3 .8-2 3-3.5 10-6.9 4.8-5.6 3.2-6.1 4.5-12.9 3.5-8 1-4 4.1-37 2.8-9 1.1-1.6 2-1.4z"/><path fill="#0057ff" d="M536.5 81.4l1.1-.5 2 .4 1.9 2.1 1.1 2.1 2.9 7.9 3.8 15 3.8 10 2.9 11 1.6 3.5 6.1 8.5 2.7 5 .9 4 .9 13 2.4 12.8 4 8.8 2 2.9 2 1.7 2 .9 3 0 2.5-1.1 2.5-2.5 1.5-2.5 1.1-4 .2-3-.6-7 .8-3 6-7 6-9.3 2-1.8 3-.9 9-.5 3 1.2 3 3.3 13 17.3 2 1.8 2 1 9 2.6 6 1.2 23 0 0 100.9-13 .8-28-.9-17 .8-14-1.1-12-.4-17 2.9-3 2-1.4 3.1-186.6 0 0-113.7 8-9.1 4-3.6 5-2.3 4-.2 2.4 .9 2 2 .4 2-.7 6 .3 4 1.7 4 3.3 4 4.6 2.6 4 .5 4-1.1 3.7-3 2.3-3.6 1.9-4.4 2-11-2.4-42 .8-9 2.1-6 3.6-5.2 5-3.7 3-1 2 0 6 3 3 2.5 2 2.5 7 13.7 2.6 7.2 1.1 8-.8 28 1.1 17 1.8 8 3.2 5 3 2.2 3 .5 4-1.1 2.1-1.6 2.4-3 2.1-4 1.5-4 1-6-.8-8 .6-3 2.1-2.4 6-4.3 4-3.8 4-5.5 3-6.1 5.2-14.9 5.1-11 3.1-20 1.6-4.9 2-3.3z"/><path fill="#006dff" d="M537.9 103.4l1.7-.8 1 .3 3 3.8 6 11.3 5.1 13.4 5.4 10 2 6 2.5 14 4 16 5.2 10 1.8 2.7 2 1.8 3 1.4 3 .4 2-.4 3-1.9 2.8-3 1.8-3 1.8-5 1.3-6 1.3-2.5 12-9.6 2-1 3-.4 5 .9 3 1.6 9.6 10 2.4 2 3.4 2 16.6 8.5 16 4.4 8 4.1 0 77.1-13 1.7-45 2-25 .1-16 1.6-4 .7-3 1.6-1.4 2.2-.7 3-183.9 0 0-96.3 7-7.7 3-2.2 3-1.1 2-.2 3 .7 11.8 6.8 5.2 1.6 3 .1 3-.7 4-1.9 3-2.4 3.4-5.7 2.5-7 1.6-11-.1-16 .6-5.7 3.1-17.3 1.9-4.6 2-2.8 3-2.6 2-.8 1 .2 7 6.1 2 2.5 2 3.5 1.5 4.5 1 5 1.3 24 2.6 20 1.3 7 1.6 4 3.7 5.5 3 2.1 4 .7 3-.5 4-2.2 2-2.1 2.9-4.5 3.7-8 3.9-13 7.5-9.6 4-6.2 4.1-9.2 5.4-16 7.5-14.3 3-3.5z"/><path fill="#0082ff" d="M538.4 113.4l1.2-.1 2 1.1 4.1 4 10.3 20 1.7 5 3 15 5.6 19 6.9 13 3.4 3.9 7 2.8 2 .2 2-.7 3-2.5 4.4-4.7 6.6-11.3 2-2.6 5-2.8 4-1.5 2-.3 3 .5 9 3.1 16 8 14.5 9.9 4.6 4 10.3 12 6.6 13.7 0 41.7-11 3.7-19 3.2-54 3.4-19 1.7-4 1-2.6 1.6-1.3 2-.6 4-180.5 0 0-80.7 2.7-2.3 5.3-7.6 5-4.5 3-1.4 5-.1 9 2.4 7 .2 3-.6 3-1.3 7-4.7 2.2-3.4 3.9-10 4.2-31 1.7-3.6 2-2.9 3-2.6 3-1.4 2 .9 2 2.1 2 4.5 9.1 44 .9 3.2 1.9 3.8 4.1 5.9 4 2.1 3 .5 3-.1 5.8-2.4 3.3-3 4.4-7 9.3-19 9.2-16 4.2-10 5.5-16 3.3-4.5 4-4.1z"/><path fill="#0098ff" d="M536.7 122.4l2.9-.8 3 1 4 4.3 4 6.4 3.2 7.1 3.6 17 7 21 8.2 15 2 2.4 2 1.4 7 3.1 3 .3 2-.5 5.2-3.7 9.8-9.6 4-3.3 5-2 11-1.8 5 .1 6 1.7 7.8 3.9 4.8 4 3.3 4 4.4 7 8.7 11 2.3 4 2 5 1 7-.6 12 2.1 9 .5 4-.9 4-2 3-3.4 2.6-4 2-6.7 2.4-6.3 1.5-19 2.1-52 4.2-5 .9-4.2 1.3-3.2 2-1.3 2-.7 4-175.6 0 0-74.3 4-2.2 9-7.4 5-2.9 5-1.5 10-1.1 7-1.5 6-2.9 5.7-4.2 2.8-4 3.6-9 2.9-15.3 2-6.7 2-4.2 1-1.2 2-1 2 .6 1 .8 4 7 3.2 9 5.3 22 2.5 4.9 3.4 5.1 3.6 2.8 6 1.4 5-.5 5-2.2 3-2.2 2.1-2.3 7.2-11 8.2-17 8-15 8.6-21 1.9-3.2 2-1.7z"/><path fill="#00aeff" d="M538.3 130.4l2.3-.6 3 1.2 3 2.9 2 3 2.2 5.5 3.9 16 7.9 21 8.1 15 2.4 3 3.5 2.5 7 3 3 .3 3-.5 5-2.3 13-7.8 21-7.5 3-.1 4 .9 3.1 1.5 2.9 2.2 2.8 3.8 4.2 9 10.5 13 2.1 4 1.4 4 .9 6-.1 10 .8 11-.9 4-2.8 4-2.9 2.4-4 2.1-5 1.9-5 1.1-16 2.2-51 4.9-8.1 1.4-4.9 1.5-3 1.5-1 1-1 2-.5 4-171.5 0 0-69.1 18-11 6-2.5 18-5.8 6-3.2 4.7-3.4 3.4-4 3.4-7 2.1-6 1.6-8 1.4-4 1.4-2 2-1.3 1-.1 2 .9 3 3.8 1.5 3.7 5.6 20 3.1 6 3.8 5 4 2.7 6 1.6 6-.3 5.3-2 3.7-2.5 3.7-3.5 4.2-5 4.1-6 8.4-19 14.6-27.6 3-3.9z"/><path fill="#00c3ff" d="M538.5 140.4l2.1-.8 2 .2 3 2.7 2 4 4.7 13.9 9.9 23 7.4 13.1 2.5 2.9 3.5 2.4 7 3.1 5.4 .5 4.6-1 14-5.2 13-3.3 9-2.9 4-.3 2 .5 2 1.3 7.7 10.9 9.6 11 2.7 4.4 1.9 4.6 1.2 7 .5 15-1.2 5-1.7 3-1.7 2-4 2.9-4 1.9-14.8 3.2-35.2 4.4-22 2.2-12.4 2.4-3.1 1-3.2 2-2 3-.9 4-167.4 0 0-63.4 7.8-5.6 9.2-5.7 26-11.1 10-5.8 3.7-3.4 3-4 8.3-16.4 1-1.1 1 .1 1 1.3 9.3 21.1 2.8 4 3.9 4 5 2.9 6 1.3 6-.3 5.7-1.9 4.5-3 4.7-4 8.5-10 2.6-4.6 4.2-11.4 2.8-5.8 9-14.7 5-5.9z"/><path fill="#00d9ff" d="M537.2 149.4l2.4-.8 2 .4 3 3.1 19.4 39.3 5.4 8 4.2 3.5 8 3.7 5 .9 6-.7 14-3.2 17-1.5 5 0 3 .7 3 1.5 10 8.4 4.5 4.7 3.5 4.9 2.1 4.1 1.4 5 1 10-.3 5-1.6 5-2.8 4-3.5 3-3.3 1.6-16 4-54 7-15 2.9-3.9 1.5-3.1 2-1.9 2-2.8 5-162.3 0 0-55.4 6.2-7.6 6.6-5 5.2-3.3 26-12 9-4.8 6.1-4.9 6.9-8 3-1.8 2 .5 1 .8 5.2 8.5 3.3 4 4.4 4 4.1 2.7 5 1.6 5 .7 6-.6 4.4-1.4 4.8-3 6.5-5 9.1-10 3-5 3.9-11 2.3-4.5 7-9.9 4-4.2z"/><path fill="#00efff" d="M537.5 157.4l2.1-.1 2 1.1 7 8.6 3 4.9 11 21.5 6 8 3.9 3 9.1 4 4 .9 21-2.1 20 1.3 3 .7 4 1.8 9 5.8 3.4 3.6 4.6 6.4 1.6 3.6 .9 4 .9 7-.3 4-1.6 4-3.4 5-2.3 2-2.8 1.5-16 4.7-46 6.5-22 4-5.7 2.3-3.2 2-6.2 7-157.9 0 0-48.2 6.6-9.8 5.2-5 4.2-3.4 4-2.5 34-16.6 10-6.6 4-1.7 3 .9 13.1 9.9 5.9 3.1 6 1.3 4 .2 6-1 4-1.3 12-8.3 9.8-10 3.4-5 3.8-10 2-4 5-5.6 4-3.1z"/><path fill="#00fffa" d="M536.4 165.4l2.2-.2 2 .7 4 2.6 3 2.8 5 7.9 8.2 15.2 6.3 8 3.7 3 9.8 4.3 4 1.2 21-.6 19 2.7 5 1.6 10 5.4 3 3 4.9 6.4 1.1 2.2 .9 3.8 .9 6-.3 3-1.3 3-3.1 5-2.1 2-1.9 1-15.1 5.5-43 6.8-24.8 4.7-9.3 4-7.9 6-7.9 2-147.1 0 0-42.5 9-13.5 8.4-8 6.3-4 12.3-6.4 29-12.9 3-.1 4 .9 6 2.6 9 4.8 5 1.4 8 .8 9.2-2.1 3.8-2 8.9-6 10.4-10 4.3-5 6.7-13 2.7-2.4 3-1.4z"/><path fill="#00ffe4" d="M535.8 171.4l2.8-.2 2 .4 3 1.3 2 1.6 5 6.4 9.1 15.5 6.9 7.9 4 2.8 10 4.1 4 1.2 21 .6 16 3.3 7 2.4 8 4.5 3 2.8 3.5 4.4 1.6 3 .9 3 .5 4-.3 3-1.1 3-2.1 3.5-4.1 3.5-11.9 5.6-67.1 12.4-8.9 3.2-10 5.6-8.2 2.2-4.5 2-137.8 0-3.5-5.2 0-30.3 3.8-7.5 7-11 3.7-4 5.5-4.8 9-5.7 10-5.1 13-5.5 12-3.8 4-.3 4 .6 6 1.7 9.6 3.9 8.4 1.4 5 0 8.8-2.4 8.5-5 6.8-5 12.4-12 7.5-10.5 2-1.6 2-.9z"/><path fill="#00ffce" d="M535.4 176.4l2.2-.5 3 .3 2.6 1.2 2.4 1.9 4 5 8.3 13.1 7.6 8 4.1 2.8 11 4.5 4 1.1 19 1.5 9 1.9 11 3.3 8 4.1 5.4 4.8 2.2 3 1.4 3 .8 3 0 3-.6 3-1.4 3-2.6 3-2.5 2-4.8 3-4.9 2.2-6 1.5-32 5.9-28 5.9-10 3.5-9 4.3-11.6 3.7-3.5 2-130.1 0-2.8-3.5-2-3.5-1-5 0-16 1.2-8 2.6-6 6.5-10 4.4-5 6-5 9.3-5.9 9-4.4 11-4.3 11-2.9 4-.4 5 .4 15 4.1 10 1.3 5-.4 7-2.1 5-2.4 10-6.5 14-12.5 7-7.5 3-2.2z"/><path fill="#00ffb8" d="M536 180.4l2.6-.3 2 .4 4 2.5 3 3.3 8.5 12.1 8.3 8 4.3 3 14.9 5.5 19 2.6 7 1.6 11 3.7 7 3.6 5.6 5 2.9 5 .6 3-.1 3-2.1 5-5.1 5-3.8 2.4-4 1.8-63.7 13.8-30.7 11-5.3 3-122.1 0-4.2-3.3-2.4-2.7-1.4-3-.6-3-.4-11 .5-9 1.6-6 3.2-6 6.4-9 5.2-5 8.2-6 6.7-4 11-4.6 7-2.2 9-1.9 4-.3 5 .3 15 3 9 1 4-.1 5-1.3 7-2.7 10-5.7 22-18.4 5-3z"/><path fill="#00ffa3" d="M535.3 184.4l4.3 0 4 2.3 11.7 13.7 8.3 7.3 5 3.3 15 5.3 24 4.8 11 4.2 5 2.7 4.9 4.4 3 5 .5 5-.9 3-1.2 2-5 5-5.3 2.8-63 14.9-29.7 10.3-4.6 2-2.7 2-113 0-8-4.5-3.5-3.5-1.7-5-.6-9 .8-10 1.6-6 4.4-7.4 5-6.8 5-4.6 9.7-7.2 5.3-2.9 11-4.2 6-1.6 9-1.5 7-.1 15 2.1 10 .8 4 0 3-.7 9-3.5 9-4.9 5-3.5 14-11.3 4-2.7 4-1.8z"/><path fill="#00ff8d" d="M533.4 188.4l4.2-.1 4 1.6 11.8 11.5 10 8 4.2 2.7 16 5.7 22 5.2 14 6.5 4.2 3.9 2.9 5 .6 3-.1 2-1.9 4-3.5 4-4.2 2.3-67.8 17.7-25.6 9-4.2 2-2.5 2-104.6 0-12.3-6.3-2.1-1.7-1.5-2-1.5-4-.8-8 1.3-11 1.5-5 5.7-9 3.1-4 15.3-12.3 4-2 11-3.9 14-2.6 6-.1 26 1.9 6-.5 10-4 10-5.1 17-12.7 4-2.4 3-1.1z"/><path fill="#00ff77" d="M529.4 193.4l4.2-.4 7 1.6 22 16.1 5 3 17 5.9 20 5.7 9.6 5.1 3 2 1.9 2 2.8 6 .3 2-.3 2-1.9 4-2.4 2.5-3.3 1.5-16 5-50.9 14-25.6 9-6.9 4-95.5 0-15.8-7.5-3-2.2-1.8-2.3-1.3-4-.7-6 1.5-11 1.2-4 5.7-9 3.2-4 15-12 14.2-5.3 13-2.2 5-.2 28 1 5-.4 8-3.3 12-5.8 13-8.8 7-3.7z"/><path fill="#00ff62" d="M521.4 200.4l3.2-.2 4 2.5 2 .5 2-.4 6-2.8 2-.2 3 .6 5 2.6 18 12 38 13.2 6.5 4.2 4 4 1.8 5 0 3-.6 2-1.4 2-2.9 2-9.4 4-57.6 17-23.1 8-10.3 5-85.3 0-14.7-5.6-7.2-4.4-3-3-1.8-4.9-.4-5.1 1.4-9.6 1.6-4.4 4.4-7 3.1-4 9.9-8.5 4.9-3.5 13.3-5 11.8-2.2 6-.3 29 .2 4-.5 4-1.4 16-7.5 12-7z"/><path fill="#00ff4c" d="M520.4 203.4l3.2 .1 7 1.9 10-2.3 3 .2 3 1.1 20 12.3 29.3 10.7 8.5 4 4.2 3.5 2.6 3.5 1.1 4-.6 3-1.4 2-2.4 2-5.5 3-4.9 2-21.3 7-33.6 10-22 7.6-13.3 5.4-73.5 0-15.2-4.6-4-1.6-7.4-4.8-3.7-4-1.5-4-.3-5 1.3-8 2-5 3.6-5.8 3-3.7 9-7.8 5-3.5 13-5 9-2 7-.6 30-.6 4-.5 6-2.2 25-12.1z"/><path fill="#00ff36" d="M517.9 206.4l4.7-.8 9 1.3 10-1.5 5 1.2 19 11.5 26.3 10.3 8.3 4 3.9 3 2.3 3 1.1 3-.3 3-1.9 3-2.7 2.2-5.1 2.8-7.3 3-17.5 6-30.1 9.2-40.1 13.8-59 0-10.9-2.5-15.6-4.5-3.5-2-3.8-3-2.1-2-2-2.9-1.2-4.1 .1-5 1.2-6 2.1-5 2.8-4.5 3-3.5 8-7.2 5-3.3 13-5.3 7-1.8 20-1.5 19-.7 4-.6 6-2.2 22-10.3z"/><path fill="#00ff21" d="M518.2 208.4l4.4-.8 9 .6 9-.7 5 .9 20 11.6 24.5 10.4 5.7 3 3.8 2.7 2 2.3 1.2 3-.2 3-2 3-4 3-5.9 3-12.8 5-61.3 20.2-17 4.6-5 .9-38.9 .3-19.1-3.2-15-3.9-4-1.5-5.6-4.4-3.9-5-1-4 .2-5 1.2-5 2.1-5 2-3.2 3-3.4 7-6.5 4-2.8 14-5.9 6-1.8 20-1.9 19-1 4-.6 6-2 22-9.7z"/><path fill="#00ff0b" d="M522.7 209.4l17.9 0 5 1.1 20 11.6 25.7 12.3 3.9 3 2.4 3 .5 3-.7 2-2.8 3-4.4 3-18.6 8-52 17.3-19 4.6-6 1-34 .3-24-2.9-14-3.9-4-1.5-3.5-2.9-4.5-6-.8-4 .4-5 1-4 2.2-5 2.9-4 6-6 5.3-3.9 14-6.1 5-1.6 20-2.4 19-1.2 5-1 6-1.9 18-7.8 8-2.1z"/><path fill="#0bff00" d="M521.8 211.4l6.8-.7 12 .7 4 1 43 23.8 2.3 2.2 2.1 3 .5 2-.6 2-3.4 4-4.9 3-10 4.9-13.5 5.1-40.5 13.5-26 5.2-7 .2-26-.3-23-2.6-17-5.2-3-2.2-4-5.6-.9-3 .1-5 .8-4 1.9-5 2-3 5.6-6 2.5-2.3 3-1.9 14-6.2 5-1.6 19-2.5 19-1.5 5-.9 6.8-2.1 16.2-6.7 8-2.3z"/><path fill="#21ff00" d="M525.8 212.4l5.4 0 11.4 1.8 19 10.1 17.1 10.1 4.9 3.5 2.1 2.5 .9 2 .1 2-.5 2-2.6 3-7.5 5-19.2 8-37.3 12.5-27 5.1-7 .3-22-.6-25-2.6-10-2.7-7-2.8-2.6-2.2-2.6-4-1-3-.2-4 .6-4 1.8-5 2.5-4 4.5-5 3-2.5 3-1.6 10-4.5 7-2.5 16-2.6 25-2.5 9-2.6 17-6.5 11-2.7z"/><path fill="#36ff00" d="M525.5 214.4l6.1-.1 10 2.2 21.3 10.9 12.5 8 4.6 4 1.4 2 .6 2-.1 2-.9 2-3.8 4-4.6 3-11.2 5-13.4 5-28.4 9.6-28 5-6 .3-19-.7-27-2.9-9-2.3-6-2.3-3-2-2.7-3.7-1.1-3-.3-4 .7-4 1.8-5 2.5-4 3.1-3.6 3-2.5 4-2.1 9-4 7-2.4 14-2.6 25-2.6 10-2.8 17-5.9 10-2.3z"/><path fill="#4cff00" d="M528.3 216.4l6.3 .9 8 2.5 15 7.1 7.7 4.5 7.1 5 4 4 1.1 2 .4 2-.3 2-1 2-4.3 4-9.6 5-29 11-15.7 5-28.4 4.8-5 .2-18-.9-26-3.1-9-2.2-4.7-1.8-4.2-3-2-3-.9-4 .2-4 1.4-5 2.5-5 2.3-3 2.4-2.1 10-5.3 9-3.2 11-2.7 29-3.3 28-8.4 12-2z"/><path fill="#62ff00" d="M520.2 219.4l8.4-.4 6 1.1 11 3.7 13 6.1 5.6 3.5 7.5 6 2.4 4 .1 2-.6 2-1.3 2-2.1 2-8.8 5-14.3 6-13.5 5-15 4.8-29 5.1-5 .2-17-1-25-3.1-10-2.5-4-1.5-4-2.9-2-3.1-.6-3 .3-4 1.7-6 1.9-4 1.7-2.1 2.3-1.9 9.7-5.2 7-2.5 11-3 29-3.5 27-7.6 6-1.1z"/><path fill="#77ff00" d="M520 221.4l7.6 .1 6 1.1 12 3.8 12 5.5 4 2.5 7 6.1 1.4 1.9 .6 2-.4 3-2.5 3-8.1 5.1-13.3 5.9-13.7 5.3-15 4.8-29 5-21-.9-23-3.1-14-4-3.3-2.1-2.4-3-.7-3 .2-3 1.8-7 1.4-3.3 1.3-1.7 2.5-2 9.2-5.1 19-5.8 27-3.1 17-4.7 16-3.3z"/><path fill="#8dff00" d="M512.3 224.4l7.3-1 9 .6 7 1.7 11 3.6 10.6 5.1 3.9 3 3.9 4 1.3 2 .5 2-.6 2-2.7 3-5.9 4.2-12.1 5.8-13.9 5.6-14 4.4-29 5.3-4 .1-17-1.1-22-3.1-13.3-4.2-3.1-2-2.2-3-.5-2 .2-3 1.7-7 1.4-3 3.3-3 8.5-5.1 18-5.5 27-3.2 15-4 10-2.1z"/><path fill="#a3ff00" d="M510.8 226.4l7.8-1 9 .6 6 1.3 11 3.4 9.3 4.7 4.2 3 3.7 5 .4 2-.5 2-3.3 4-4.3 3-11.6 6-10.9 4.5-14 4.5-29 5.5-5 .1-17-1.3-21-3.1-11.4-4.2-2.9-2-1.7-2.4-.5-1.6 0-3 1.4-6 1.1-2.6 4.6-4.4 6.4-4 18-5.6 26-3 15-3.8 9-1.6z"/><path fill="#b8ff00" d="M508.8 228.4l9.8-1 8 .5 6 1.1 10 3.1 6.7 3.3 5.5 4 2.7 4 .4 2-.4 2-1.1 2-1.8 2-5.7 4-9.2 5-9.6 4-12.5 4.1-29 5.6-5 .1-18-1.4-19-3-4.7-1.4-5.3-2.5-3-2.2-1.6-2.3-.5-2 .1-3 2-6.3 4.1-4.7 6-4 16.9-5.4 26-3.1 15-3.4 7-1.1z"/><path fill="#ceff00" d="M518.6 229.4l7 .2 5 .8 9 2.7 5.3 2.3 4.6 3 3 3 1.1 2 .4 2-.7 3-3.4 4-5.5 4-7.3 4-9.6 4-10.9 3.3-29 5.8-25-1.8-16-2.9-4.3-1.4-3.8-2-2.5-2-1.7-3-.4-2 .4-3 1.9-5 4.1-5 2.6-2 2.7-1.3 16-5.1 26-3.1 17-3.3 13-1.2z"/><path fill="#e4ff00" d="M516.5 231.4l12.1 .3 9 2.7 4.8 2 4.4 3 2.6 3 1 3-.2 2-.9 2-3.6 4-5.5 4-4.6 2.5-10 4.2-10 2.9-28 5.7-25-1.8-15-2.8-4-1.3-3-1.7-2.1-1.7-1.8-3-.3-2 .5-3 2.6-6 3.2-4 4.9-2.6 14-4.5 26-3.3 17-2.7 11-.9z"/><path fill="#faff00" d="M511.7 233.4l15.9 0 4.1 1 7.9 2.9 4.4 3.1 2.3 3 .7 3-.9 3-3.2 4-5.1 4-13.1 6-11 3-26.1 5.5-18-1.1-12-1.5-13-3.3-3-1.8-2.3-2.8-.5-2 .1-2 3.1-8 2.6-3.4 4-2.1 9.6-3.5 4.4-1.1 40-5.2 9-.7z"/><path fill="#ffef00" d="M504.3 235.4l20.3-.3 3.5 .3 3.4 1 7.1 3 3 2.6 1.8 3.4-.4 4-1.9 3-4.4 4-12.3 6-10.7 3-26.1 5.6-17-.9-13-1.6-11.3-3.1-3.3-2-1.5-2-.4-2 .3-2 3-8 2.2-2.6 3-1.6 9-3.5 4-1 22-3.2 19-2z"/><path fill="#ffd900" d="M496.7 237.4l13.9-.7 14 .3 4 .7 6 2.4 3.4 2.3 1.9 3 .3 2-.3 2-1.6 3-2.9 3-11.5 6-14.3 4-22 4.8-13-.6-15-1.7-12-3.4-2-1.2-1.7-1.9-.5-2 .3-2 2.7-7 2.2-2.5 4.6-2.5 5.4-2.2 5-1.3 20-3.1 13-1.4z"/><path fill="#ffc300" d="M499.8 238.4l13.8-.1 11 .9 4 .9 4 1.9 2.9 2.4 1.3 3-.4 3-1.8 3-2.4 2-9.3 5-17.3 5-18 3.8-14-.6-14-1.7-10.5-3.5-1.5-1-1.4-2 .1-4 1.3-3.4 1.6-2.6 2.4-2.1 6-3.1 5.7-1.8 15.3-2.8 9-1.2 12-1z"/><path fill="#ffae00" d="M488.5 240.4l19.1-.9 16.4 1.9 4.6 1.6 3 2.2 1.3 2.2 .1 3-1.1 2-1.9 2-4.4 3-4 2-16 5-18 3.8-12-.3-14-1.7-8.5-2.8-2.5-1.5-1.4-1.5-.5-3 1.9-4.9 3-3 3.6-2.1 8.7-3 21.7-3.9z"/><path fill="#ff9800" d="M490.2 241.4l16.4-.4 12 1.6 5 1.5 3 1.6 2 2.5 .2 2.2-.9 2-3.1 3-7.5 4-13.7 4.5-16 3.2-12-.2-12-1.5-4-1.1-4.3-1.9-1.7-1.2-1.5-1.8-.2-3 1.4-3 2.3-2.4 4.2-2.6 5.1-2 7.5-2 17.2-2.9z"/><path fill="#ff8200" d="M493.2 242.4l12.4 0 10 1.7 3.5 1.3 3.3 2 1.3 2 0 2-1.1 2-3.6 3-8.3 4-10.1 3.1-13 2.4-11 0-10.8-1.5-3.6-1-3.6-1.7-1.7-1.3-1.2-2-.1-2 1.7-3 3.8-3 4-2 5.7-2 7.9-2 13.9-2z"/><path fill="#ff6d00" d="M486.7 244.4l11.9-.8 10 .9 4 1 3.7 1.9 1.9 2 .4 2-.8 2-1.7 2-6.9 4-9.1 3-10.5 1.9-9 .5-9-.8-6.5-1.6-2.1-1-2.2-2-.8-2 .5-2 2.6-3 3-2 9.5-3.7 11-2.3z"/><path fill="#ff5700" d="M491.5 245.4l9.1-.1 7.1 1.1 2.6 1 2.3 1.5 1.1 1.5 .1 2-1.9 3-4.6 3-6.7 2.4-9 1.7-10 .7-8-.5-5-1.3-2-1.1-1.6-1.9-.2-2 1-2 2.1-2 3.3-2 8.5-3 10.9-1.9z"/><path fill="#ff4100" d="M490.5 247.4l8.1-.3 6 1.1 3.8 2.2 .6 1-.1 2-1.5 2-3 2-5.3 2-5.5 1.1-10 .7-6-.1-4-.7-3.3-2-.5-1 .3-2 1.7-2 1.8-1.2 6.8-2.8 9.2-1.9z"/><path fill="#ff2b00" d="M489.4 250.4l5.2-.6 5 .5 2.5 1.1 .7 1 .1 1-1.3 1.8-2.1 1.2-5.9 1.4-12 .1-2.8-.5-1.2-1 0-1 2.2-2 8.8-2.8z"/>
<path fill="none" stroke="#3a3a3a" stroke-opacity="0.75" stroke-width="0.55" d="M386.6 203.7l2.7-2.3 4-6 2.3-2.7 3.8-3.3 2.2-1.2 5-.5 10 2.5 7 .2 3-.6 3-1.3 7-4.7 2.2-3.4 3.9-10 4.2-31 1.7-3.6 2-2.9 3-2.6 3-1.4 2 .9 2 2.1 2 4.5 9.1 44 .9 3.2 1.9 3.8 4.1 5.9 4 2.1 3 .5 3-.1 5.8-2.4 3.3-3 4.4-7 9.3-19 9.2-16 4.2-10 5.8-16.5 6-7.3 2-1.3 1 0 4 2.8 3 3.7 9.4 18.6 1.7 5 3 15 5.6 19 6.9 13 3.4 3.9 7 2.8 2 .2 2-.7 3-2.5 4.4-4.7 6.6-11.3 2.2-2.7 2.8-1.9 6-2.3 2-.3 3 .5 10 3.6 14.8 7.4 4.9 3 11.2 8 4.1 4 9.4 11 6.6 13.7M678.6 263.8l-11 3.7-19 3.2-54 3.4-19 1.7-4 1-2.6 1.6-1.3 2-.6 4M386.6 241.9l9.8-14.5 9.2-8.2 18-9.7 27-12.2 3-.4 4 .7 7 2.9 9.2 4.9 7.8 1.8 6 .2 6-1.3 4-1.5 10-6.6 5.3-4.6 9.6-10 6.1-11.9 2-2.9 3-2.1 4-1.3 2 .3 2 1 4 2.8 2 2 5 7.9 8.2 15.2 6.3 8 3.5 2.9 10 4.4 4 1.2 22-.6 21 3.5 12 6.2 3.4 3.4 5.1 7 1 3 1.1 6-.1 5-1.3 3-3.1 5-2.1 2-1.9 1-11.1 4.3-5 1.5-41 6.3-25 4.7-9 3.6-9 6.6-7.9 2M419.4 284.4l-8.8-3.9-9-4.9-2.8-3.2-1.5-5-.3-7 2.1-12 6.8-11 4.8-5 12.9-10.1 7.3-2.9 8.7-2.8 14-1.9 30 1 6-.7 18.6-8.6 14.4-9.7 8-3.6 7 .5 4 1.5 21 15.6 5 3 15 5.3 20 5.6 4.6 1.8 10 6 1.9 2 2.1 4 .9 3-.2 3-2.6 5-2.7 2.1-18.3 5.9-50.9 14-25.6 9-6.9 4M521.8 211.4l6.8-.7 12 .7 4 1 43 23.8 2.3 2.2 2.1 3 .5 2-.6 2-3.4 4-4.9 3-10 4.9-13.5 5.1-40.5 13.5-26 5.2-7 .2-26-.3-23-2.6-17-5.2-3-2.2-4-5.6-.9-3 .1-5 .8-4 1.9-5 2-3 5.6-6 2.5-2.3 3-1.9 14-6.2 5-1.6 19-2.5 19-1.5 5-.9 6.8-2.1 16.2-6.7 8-2.3zM512.3 224.4l7.3-1 9 .6 7 1.7 11 3.6 10.6 5.1 3.9 3 3.9 4 1.3 2 .5 2-.6 2-2.7 3-5.9 4.2-12.1 5.8-13.9 5.6-14 4.4-29 5.3-4 .1-17-1.1-22-3.1-13.3-4.2-3.1-2-2.2-3-.5-2 .2-3 1.7-7 1.4-3 3.3-3 8.5-5.1 18-5.5 27-3.2 15-4 10-2.1zM504.3 235.4l20.3-.3 3.5 .3 3.4 1 7.1 3 3 2.6 1.8 3.4-.4 4-1.9 3-4.4 4-12.3 6-10.7 3-26.1 5.6-17-.9-13-1.6-11.3-3.1-3.3-2-1.5-2-.4-2 .3-2 3-8 2.2-2.6 3-1.6 9-3.5 4-1 22-3.2 19-2zM486.7 244.4l11.9-.8 10 .9 4 1 3.7 1.9 1.9 2 .4 2-.8 2-1.7 2-6.9 4-9.1 3-10.5 1.9-9 .5-9-.8-6.5-1.6-2.1-1-2.2-2-.8-2 .5-2 2.6-3 3-2 9.5-3.7 11-2.3z"/>
</g>
<rect x="387.6" y="10.4" width="290.0" height="272.1" fill="none" stroke="#2a2a3a" stroke-width="0.9"/>
<line x1="383.4" y1="282.5" x2="387.6" y2="282.5" stroke="#555" stroke-width="0.7"/>
<text x="379.3" y="285.0" font-size="9.40" text-anchor="end" font-weight="normal" fill="#2b2b2b" textLength="12.6" lengthAdjust="spacingAndGlyphs">1.0</text>
<line x1="383.4" y1="248.5" x2="387.6" y2="248.5" stroke="#555" stroke-width="0.7"/>
<text x="379.3" y="251.0" font-size="9.40" text-anchor="end" font-weight="normal" fill="#2b2b2b" textLength="12.6" lengthAdjust="spacingAndGlyphs">1.5</text>
<line x1="383.4" y1="214.5" x2="387.6" y2="214.5" stroke="#555" stroke-width="0.7"/>
<text x="379.3" y="217.0" font-size="9.40" text-anchor="end" font-weight="normal" fill="#2b2b2b" textLength="12.6" lengthAdjust="spacingAndGlyphs">2.0</text>
<line x1="383.4" y1="180.5" x2="387.6" y2="180.5" stroke="#555" stroke-width="0.7"/>
<text x="379.3" y="183.0" font-size="9.40" text-anchor="end" font-weight="normal" fill="#2b2b2b" textLength="12.6" lengthAdjust="spacingAndGlyphs">2.5</text>
<line x1="383.4" y1="146.4" x2="387.6" y2="146.4" stroke="#555" stroke-width="0.7"/>
<text x="379.3" y="148.9" font-size="9.40" text-anchor="end" font-weight="normal" fill="#2b2b2b" textLength="12.6" lengthAdjust="spacingAndGlyphs">3.0</text>
<line x1="383.4" y1="112.4" x2="387.6" y2="112.4" stroke="#555" stroke-width="0.7"/>
<text x="379.3" y="114.9" font-size="9.40" text-anchor="end" font-weight="normal" fill="#2b2b2b" textLength="12.6" lengthAdjust="spacingAndGlyphs">3.5</text>
<line x1="383.4" y1="78.4" x2="387.6" y2="78.4" stroke="#555" stroke-width="0.7"/>
<text x="379.3" y="80.9" font-size="9.40" text-anchor="end" font-weight="normal" fill="#2b2b2b" textLength="12.6" lengthAdjust="spacingAndGlyphs">4.0</text>
<line x1="383.4" y1="44.4" x2="387.6" y2="44.4" stroke="#555" stroke-width="0.7"/>
<text x="379.3" y="46.9" font-size="9.40" text-anchor="end" font-weight="normal" fill="#2b2b2b" textLength="12.6" lengthAdjust="spacingAndGlyphs">4.5</text>
<line x1="414.0" y1="282.5" x2="414.0" y2="286.8" stroke="#777" stroke-width="0.7"/>
<text x="414.0" y="298.1" font-size="9.00" text-anchor="middle" font-weight="normal" fill="#2b2b2b" textLength="4.8" lengthAdjust="spacingAndGlyphs">2</text>
<line x1="466.7" y1="282.5" x2="466.7" y2="286.8" stroke="#777" stroke-width="0.7"/>
<text x="466.7" y="298.1" font-size="9.00" text-anchor="middle" font-weight="normal" fill="#2b2b2b" textLength="4.8" lengthAdjust="spacingAndGlyphs">4</text>
<line x1="519.4" y1="282.5" x2="519.4" y2="286.8" stroke="#777" stroke-width="0.7"/>
<text x="519.4" y="298.1" font-size="9.00" text-anchor="middle" font-weight="normal" fill="#2b2b2b" textLength="4.8" lengthAdjust="spacingAndGlyphs">6</text>
<line x1="572.1" y1="282.5" x2="572.1" y2="286.8" stroke="#777" stroke-width="0.7"/>
<text x="572.1" y="298.1" font-size="9.00" text-anchor="middle" font-weight="normal" fill="#2b2b2b" textLength="4.8" lengthAdjust="spacingAndGlyphs">8</text>
<line x1="624.9" y1="282.5" x2="624.9" y2="286.8" stroke="#777" stroke-width="0.7"/>
<text x="624.9" y="298.1" font-size="9.00" text-anchor="middle" font-weight="normal" fill="#2b2b2b" textLength="9.0" lengthAdjust="spacingAndGlyphs">10</text>
<line x1="677.6" y1="282.5" x2="677.6" y2="286.8" stroke="#777" stroke-width="0.7"/>
<text x="677.6" y="298.1" font-size="9.00" text-anchor="middle" font-weight="normal" fill="#2b2b2b" textLength="9.0" lengthAdjust="spacingAndGlyphs">12</text>
<text x="532.6" y="311.5" font-size="10" text-anchor="middle" fill="#2b2b2b"><tspan font-style="italic">k</tspan> (Å<tspan font-size="6.5" dy="-3.6">−1</tspan><tspan dy="3.6">)</tspan></text>
<text transform="translate(357.1 146.4) rotate(-90)" x="0" y="0" font-size="10" text-anchor="middle" fill="#2b2b2b"><tspan font-style="italic">R</tspan> (Å)</text>
<rect x="167.20" y="333.5" width="8.84" height="5.4" fill="#0000ff"/>
<rect x="175.74" y="333.5" width="8.84" height="5.4" fill="#0016ff"/>
<rect x="184.28" y="333.5" width="8.84" height="5.4" fill="#002bff"/>
<rect x="192.82" y="333.5" width="8.84" height="5.4" fill="#0041ff"/>
<rect x="201.37" y="333.5" width="8.84" height="5.4" fill="#0057ff"/>
<rect x="209.91" y="333.5" width="8.84" height="5.4" fill="#006dff"/>
<rect x="218.45" y="333.5" width="8.84" height="5.4" fill="#0082ff"/>
<rect x="226.99" y="333.5" width="8.84" height="5.4" fill="#0098ff"/>
<rect x="235.53" y="333.5" width="8.84" height="5.4" fill="#00aeff"/>
<rect x="244.07" y="333.5" width="8.84" height="5.4" fill="#00c3ff"/>
<rect x="252.62" y="333.5" width="8.84" height="5.4" fill="#00d9ff"/>
<rect x="261.16" y="333.5" width="8.84" height="5.4" fill="#00efff"/>
<rect x="269.70" y="333.5" width="8.84" height="5.4" fill="#00fffa"/>
<rect x="278.24" y="333.5" width="8.84" height="5.4" fill="#00ffe4"/>
<rect x="286.78" y="333.5" width="8.84" height="5.4" fill="#00ffce"/>
<rect x="295.33" y="333.5" width="8.84" height="5.4" fill="#00ffb8"/>
<rect x="303.87" y="333.5" width="8.84" height="5.4" fill="#00ffa3"/>
<rect x="312.41" y="333.5" width="8.84" height="5.4" fill="#00ff8d"/>
<rect x="320.95" y="333.5" width="8.84" height="5.4" fill="#00ff77"/>
<rect x="329.49" y="333.5" width="8.84" height="5.4" fill="#00ff62"/>
<rect x="338.03" y="333.5" width="8.84" height="5.4" fill="#00ff4c"/>
<rect x="346.58" y="333.5" width="8.84" height="5.4" fill="#00ff36"/>
<rect x="355.12" y="333.5" width="8.84" height="5.4" fill="#00ff21"/>
<rect x="363.66" y="333.5" width="8.84" height="5.4" fill="#00ff0b"/>
<rect x="372.20" y="333.5" width="8.84" height="5.4" fill="#0bff00"/>
<rect x="380.74" y="333.5" width="8.84" height="5.4" fill="#21ff00"/>
<rect x="389.28" y="333.5" width="8.84" height="5.4" fill="#36ff00"/>
<rect x="397.83" y="333.5" width="8.84" height="5.4" fill="#4cff00"/>
<rect x="406.37" y="333.5" width="8.84" height="5.4" fill="#62ff00"/>
<rect x="414.91" y="333.5" width="8.84" height="5.4" fill="#77ff00"/>
<rect x="423.45" y="333.5" width="8.84" height="5.4" fill="#8dff00"/>
<rect x="431.99" y="333.5" width="8.84" height="5.4" fill="#a3ff00"/>
<rect x="440.53" y="333.5" width="8.84" height="5.4" fill="#b8ff00"/>
<rect x="449.08" y="333.5" width="8.84" height="5.4" fill="#ceff00"/>
<rect x="457.62" y="333.5" width="8.84" height="5.4" fill="#e4ff00"/>
<rect x="466.16" y="333.5" width="8.84" height="5.4" fill="#faff00"/>
<rect x="474.70" y="333.5" width="8.84" height="5.4" fill="#ffef00"/>
<rect x="483.24" y="333.5" width="8.84" height="5.4" fill="#ffd900"/>
<rect x="491.78" y="333.5" width="8.84" height="5.4" fill="#ffc300"/>
<rect x="500.33" y="333.5" width="8.84" height="5.4" fill="#ffae00"/>
<rect x="508.87" y="333.5" width="8.84" height="5.4" fill="#ff9800"/>
<rect x="517.41" y="333.5" width="8.84" height="5.4" fill="#ff8200"/>
<rect x="525.95" y="333.5" width="8.84" height="5.4" fill="#ff6d00"/>
<rect x="534.49" y="333.5" width="8.84" height="5.4" fill="#ff5700"/>
<rect x="543.03" y="333.5" width="8.84" height="5.4" fill="#ff4100"/>
<rect x="551.58" y="333.5" width="8.84" height="5.4" fill="#ff2b00"/>
<rect x="560.12" y="333.5" width="8.84" height="5.4" fill="#ff1600"/>
<rect x="568.66" y="333.5" width="8.84" height="5.4" fill="#ff0000"/>
<rect x="167.2" y="333.5" width="410.0" height="5.4" fill="none" stroke="#444" stroke-width="0.6"/>
<line x1="167.2" y1="338.9" x2="167.2" y2="342.9" stroke="#555" stroke-width="0.7"/>
<text x="167.2" y="354.6" font-size="9.00" text-anchor="middle" font-weight="normal" fill="#2b2b2b" textLength="4.9" lengthAdjust="spacingAndGlyphs">0</text>
<line x1="218.4" y1="338.9" x2="218.4" y2="342.9" stroke="#555" stroke-width="0.7"/>
<text x="218.4" y="354.6" font-size="9.00" text-anchor="middle" font-weight="normal" fill="#2b2b2b" textLength="28.6" lengthAdjust="spacingAndGlyphs">0.3325</text>
<line x1="269.7" y1="338.9" x2="269.7" y2="342.9" stroke="#555" stroke-width="0.7"/>
<text x="269.7" y="354.6" font-size="9.00" text-anchor="middle" font-weight="normal" fill="#2b2b2b" textLength="28.6" lengthAdjust="spacingAndGlyphs">0.6650</text>
<line x1="321.0" y1="338.9" x2="321.0" y2="342.9" stroke="#555" stroke-width="0.7"/>
<text x="321.0" y="354.6" font-size="9.00" text-anchor="middle" font-weight="normal" fill="#2b2b2b" textLength="28.6" lengthAdjust="spacingAndGlyphs">0.9975</text>
<line x1="372.2" y1="338.9" x2="372.2" y2="342.9" stroke="#555" stroke-width="0.7"/>
<text x="372.2" y="354.6" font-size="9.00" text-anchor="middle" font-weight="normal" fill="#2b2b2b" textLength="28.6" lengthAdjust="spacingAndGlyphs">1.3300</text>
<line x1="423.5" y1="338.9" x2="423.5" y2="342.9" stroke="#555" stroke-width="0.7"/>
<text x="423.5" y="354.6" font-size="9.00" text-anchor="middle" font-weight="normal" fill="#2b2b2b" textLength="28.6" lengthAdjust="spacingAndGlyphs">1.6630</text>
<line x1="474.7" y1="338.9" x2="474.7" y2="342.9" stroke="#555" stroke-width="0.7"/>
<text x="474.7" y="354.6" font-size="9.00" text-anchor="middle" font-weight="normal" fill="#2b2b2b" textLength="28.6" lengthAdjust="spacingAndGlyphs">1.9950</text>
<line x1="526.0" y1="338.9" x2="526.0" y2="342.9" stroke="#555" stroke-width="0.7"/>
<text x="526.0" y="354.6" font-size="9.00" text-anchor="middle" font-weight="normal" fill="#2b2b2b" textLength="28.6" lengthAdjust="spacingAndGlyphs">2.3280</text>
<line x1="577.2" y1="338.9" x2="577.2" y2="342.9" stroke="#555" stroke-width="0.7"/>
<text x="577.2" y="354.6" font-size="9.00" text-anchor="middle" font-weight="normal" fill="#2b2b2b" textLength="28.6" lengthAdjust="spacingAndGlyphs">2.6600</text>
<text x="372.7" y="328.0" font-size="10.00" text-anchor="middle" font-weight="normal" fill="#2b2b2b" textLength="78.2" lengthAdjust="spacingAndGlyphs">Magnitude (a.u.)</text>
<clipPath id="cc"><rect x="37.5" y="380.6" width="289.1" height="272.4"/></clipPath>
<g clip-path="url(#cc)" fill="none" stroke-width="1.55" stroke-linejoin="round" stroke-linecap="round">
<path stroke="#0000ff" d="M37.5 652.4L39.3 652.4L41.1 652.3L43.0 652.3L44.8 652.2L46.6 652.2L48.4 652.2L50.2 652.1L52.0 652.1L53.9 652.1L55.7 652.0L57.5 652.0L59.3 651.9L61.1 651.9L63.0 651.9L64.8 651.8L66.6 651.8L68.3 651.7L70.0 651.5L71.7 651.4L73.4 651.2L75.2 651.1L76.9 650.9L78.6 650.8L80.3 650.6L82.0 650.5L83.7 650.2L85.4 650.0L87.1 649.8L88.8 649.5L90.5 649.2L92.2 649.0L94.0 648.4L95.8 647.8L97.5 647.1L99.3 646.5L101.9 646.7L103.4 645.9L104.7 646.5L106.0 647.0L108.4 646.1L109.9 645.1L111.5 644.1L113.0 643.2L114.6 642.2L116.1 641.2L117.0 639.6L117.9 637.9L118.8 636.3L119.7 634.7L120.6 633.0L121.5 631.4L123.0 629.9L124.4 628.5L125.9 627.0L126.5 625.2L127.0 623.3L127.5 621.5L128.1 619.7L128.6 617.8L129.2 616.0L129.5 614.2L129.8 612.5L130.0 610.7L130.3 609.0L130.6 607.2L130.8 605.4L131.1 603.7L131.4 601.9L131.5 600.1L131.7 598.3L131.8 596.5L132.0 594.7L132.1 592.9L132.3 591.0L132.4 589.2L132.6 587.4L132.7 585.6L132.9 583.8L133.0 582.0L133.2 580.3L133.4 578.6L133.7 576.8L133.9 575.1L134.1 573.4L134.3 571.7L134.5 570.0L134.8 568.2L135.0 566.5L135.2 564.8L135.4 562.9L135.6 561.1L135.9 559.2L136.1 557.4L136.3 555.5L136.6 553.7L136.8 551.9L137.0 550.0L137.2 548.1L137.4 546.3L137.7 544.5L137.9 542.6L138.3 540.8L138.7 538.9L139.1 537.1L139.5 535.2L139.8 533.4L140.2 531.5L140.6 529.7L141.0 527.8L141.4 526.0L141.8 524.3L142.2 522.6L142.6 520.9L143.0 519.2L143.4 517.6L143.8 515.9L144.2 514.2L144.6 512.5L145.0 510.8L145.6 509.0L146.2 507.2L146.8 505.4L147.3 503.6L147.9 501.8L148.5 500.0L148.7 498.2L148.9 496.5L149.2 494.7L149.4 493.0L149.6 491.2L149.8 489.5L150.1 487.7L150.3 486.0L150.5 484.2L150.7 482.5L151.0 480.7L151.2 479.0L151.4 477.2L151.6 475.5L151.9 473.7L152.1 472.0L152.3 470.2L152.5 468.5L152.8 466.7L153.0 465.0L153.2 463.2L153.4 461.4L153.6 459.7L153.8 457.9L154.0 456.1L154.2 454.4L154.4 452.6L154.7 450.8L154.9 449.1L155.1 447.3L155.3 445.5L155.5 443.8L155.7 442.0L155.9 440.2L156.1 438.3L156.3 436.5L156.6 434.7L156.8 432.8L157.0 431.0L157.3 429.3L157.5 427.5L157.8 425.8L158.0 424.0L158.3 422.3L158.5 420.5L158.8 418.8L159.2 417.0L159.5 415.3L159.9 413.5L160.3 411.8L160.7 410.0L161.0 408.3L161.4 406.5L161.9 404.8L162.4 403.0L163.0 401.3L163.5 399.5L164.0 397.8L164.7 396.1L165.3 394.3L165.9 392.6L166.6 390.8L168.3 390.6L170.1 390.3L171.0 391.4L171.9 392.5L173.2 393.1L174.5 393.8L175.4 395.4L176.2 397.0L177.1 398.6L178.0 400.4L178.9 402.1L179.8 403.9L181.5 405.2L182.4 406.8L183.3 408.4L184.2 410.0L184.8 411.8L185.5 413.5L186.2 415.2L186.8 417.0L187.3 418.6L187.8 419.6L188.4 422.1L188.9 423.2L189.4 424.9L190.1 426.8L190.8 428.7L191.5 429.7L192.2 431.2L192.9 432.8L193.4 433.7L194.0 435.6L194.5 437.4L195.1 439.2L195.6 440.5L196.1 442.6L196.7 443.6L197.2 444.8L197.7 446.8L198.3 449.3L198.8 450.4L199.8 451.7L200.9 453.7L201.9 455.5L202.9 457.5L203.9 457.6L204.9 459.6L206.2 461.0L207.4 462.8L208.7 463.0L210.0 464.7L211.3 465.8L212.6 467.3L213.9 467.3L215.2 468.8L216.5 469.7L217.9 470.9L219.2 471.4L220.6 472.8L221.9 473.7L223.3 474.9L224.9 475.5L226.4 477.0L228.2 477.5L230.0 478.0L231.3 479.1L232.7 480.6L234.2 481.2L235.7 481.7L237.3 482.9L238.8 483.5L240.3 483.7L242.2 484.0L244.2 485.0L246.1 485.1L248.0 486.0L249.9 486.3L251.8 486.5L253.8 487.3L255.7 487.5L257.6 487.4L259.5 487.6L261.4 488.1L263.3 487.9L265.2 487.5L267.1 487.9L269.1 486.6L271.0 486.8L272.9 486.7L274.9 485.9L276.8 485.5L278.7 485.2L280.2 484.8L281.7 484.0L283.3 483.3L284.8 482.1L286.3 482.2L287.8 480.8L289.4 480.9L290.9 479.9L292.5 479.4L294.0 478.3L295.5 478.0L297.1 476.7L298.6 474.9L300.2 474.4L301.7 473.7L303.2 472.9L304.8 471.5L306.3 471.6L307.9 470.6L309.4 469.1L310.9 468.7L312.4 467.2L314.0 466.8L315.5 464.9L317.0 464.5L318.5 463.3L320.1 462.7L321.6 462.2L323.1 460.9L324.7 459.6L326.2 459.2"/>
<path stroke="#00f6ff" d="M37.5 652.4L39.3 652.4L41.1 652.3L43.0 652.2L44.8 652.2L46.6 652.1L48.4 652.1L50.2 652.0L52.0 652.0L53.9 652.0L55.7 651.9L57.5 651.9L59.3 651.8L61.1 651.8L63.0 651.7L64.8 651.6L66.6 651.6L68.3 651.5L70.0 651.3L71.7 651.2L73.4 651.0L75.2 650.9L76.9 650.7L78.6 650.6L80.3 650.4L82.0 650.3L83.7 650.0L85.4 649.8L87.1 649.5L88.8 649.2L90.5 649.0L92.2 648.7L94.0 648.1L95.8 647.5L97.5 646.8L99.3 646.2L101.3 645.9L103.4 645.6L105.3 645.6L107.3 645.6L108.6 644.5L109.9 643.4L111.2 642.3L112.4 641.2L113.7 640.1L115.0 639.0L115.7 637.4L116.3 635.7L117.0 634.1L117.7 632.5L118.4 630.8L119.1 629.2L119.7 627.5L120.4 625.9L121.0 624.3L121.5 622.6L122.0 621.0L122.6 619.3L123.2 617.7L123.7 616.1L124.2 614.4L124.8 612.8L125.1 611.0L125.4 609.2L125.7 607.3L126.0 605.5L126.3 603.7L126.6 601.9L126.9 600.0L127.2 598.2L127.5 596.4L127.6 594.6L127.7 592.8L127.8 591.0L128.0 589.2L128.1 587.4L128.2 585.6L128.3 583.8L128.4 582.0L128.6 580.2L128.8 578.5L129.0 576.7L129.2 575.0L129.5 573.2L129.7 571.5L129.9 569.7L130.1 568.0L130.3 566.2L130.5 564.4L130.6 562.5L130.8 560.7L130.9 558.8L131.1 557.0L131.2 555.1L131.4 553.3L131.5 551.4L131.7 549.6L132.6 548.0L133.6 546.3L134.5 544.7L135.8 543.7L137.2 542.6L137.6 540.9L138.1 539.1L138.5 537.4L138.9 535.7L139.4 534.0L139.8 532.2L140.3 530.5L140.7 528.8L141.1 527.1L141.6 525.5L142.0 523.8L142.4 522.2L142.8 520.5L143.3 518.8L143.7 517.2L144.1 515.5L144.6 513.9L145.0 512.2L145.3 510.5L145.7 508.7L146.0 507.0L146.3 505.2L146.6 503.5L147.0 501.7L147.3 500.0L147.6 498.2L147.8 496.3L148.1 494.5L148.4 492.7L148.7 490.8L148.9 489.0L149.2 487.2L149.5 485.3L149.8 483.5L150.0 481.7L150.3 479.8L150.6 478.0L150.9 476.2L151.1 474.3L151.4 472.5L151.6 470.7L151.8 468.9L152.1 467.1L152.3 465.3L152.5 463.5L152.7 461.7L153.0 460.0L153.2 458.2L153.4 456.4L153.6 454.6L153.9 452.8L154.1 451.0L154.3 449.2L154.5 447.3L154.8 445.3L155.0 443.4L155.3 441.4L155.5 439.5L156.6 437.8L157.7 436.2L158.8 434.5L159.5 433.1L160.2 431.7L160.9 430.2L161.6 428.8L162.4 427.3L163.1 425.8L164.8 424.7L165.6 423.0L166.5 421.2L167.3 419.5L167.9 417.8L168.4 416.1L169.0 414.3L169.5 412.6L170.1 410.9L171.4 409.6L172.8 408.3L174.1 406.6L175.4 404.8L176.7 405.2L178.0 405.6L180.2 405.2L180.6 406.8L181.1 408.4L181.5 410.0L182.8 410.4L184.2 410.9L184.7 412.5L185.2 414.1L185.8 415.6L186.3 417.2L186.8 418.8L187.3 420.5L187.8 422.8L188.4 424.7L188.9 426.3L189.4 427.5L190.1 429.3L190.7 430.6L191.3 432.0L192.0 434.5L192.6 436.1L193.1 437.8L193.6 439.6L194.2 441.3L195.1 442.8L196.0 444.4L196.9 445.9L197.8 447.4L199.2 449.2L200.5 450.5L201.9 451.5L203.3 452.8L204.6 453.7L206.0 455.0L207.3 455.9L208.7 458.1L210.0 458.6L211.6 459.9L213.1 461.7L214.1 462.6L215.2 463.8L216.2 465.8L217.2 468.0L218.2 468.2L219.2 470.3L221.2 470.8L223.3 471.9L225.0 471.6L226.7 472.2L228.3 472.9L230.0 473.4L231.3 475.7L232.7 476.8L234.2 477.5L235.7 479.4L237.3 478.9L238.8 480.3L240.3 481.4L241.8 482.0L243.4 483.3L244.9 484.3L246.5 484.2L248.0 485.2L249.9 485.7L251.8 486.0L253.8 487.4L255.7 487.5L257.6 487.9L259.5 487.3L261.4 488.3L263.3 488.3L265.2 488.5L267.1 487.2L269.1 487.6L271.0 487.5L272.5 487.3L274.1 487.0L275.6 485.8L277.2 484.4L278.7 484.5L280.2 483.6L281.7 482.5L283.3 482.4L284.8 481.0L286.3 480.6L287.8 479.2L289.4 478.8L290.9 477.2L292.5 477.3L294.0 476.0L295.5 475.6L297.1 474.5L298.6 472.6L300.2 471.9L301.7 470.7L303.2 469.9L304.8 468.6L306.3 467.4L307.9 465.6L309.4 465.3L310.9 463.9L312.4 463.7L314.0 462.9L315.5 461.8L317.0 461.5L318.5 460.9L320.1 460.3L321.6 459.9L323.1 458.6L324.7 458.1L326.2 457.6"/>
<path stroke="#00f000" d="M37.5 652.3L39.2 652.2L41.0 652.1L42.7 652.1L44.4 652.0L46.2 651.9L47.9 651.8L49.6 651.8L51.3 651.7L53.1 651.6L54.8 651.5L56.5 651.5L58.3 651.4L60.0 651.3L61.8 651.2L63.6 651.1L65.5 651.0L67.3 650.9L69.1 650.8L70.9 650.7L72.7 650.6L74.5 650.5L76.4 650.4L78.2 650.3L80.0 650.2L81.7 649.9L83.3 649.6L85.0 649.4L86.7 649.1L88.3 648.8L90.0 648.5L91.8 648.0L93.5 647.5L95.2 647.0L97.0 646.5L98.6 646.1L100.2 645.7L101.9 645.3L103.5 644.9L105.1 644.5L106.2 643.0L107.3 641.6L108.4 640.1L109.5 638.6L110.6 637.2L111.7 635.7L112.1 634.0L112.6 632.2L113.0 630.5L113.5 628.7L113.9 627.0L114.3 625.3L114.8 623.5L115.2 621.8L115.7 620.0L116.1 618.3L116.4 616.5L116.6 614.7L116.9 612.9L117.2 611.1L117.5 609.4L117.8 607.6L118.0 605.8L118.3 604.0L118.9 602.3L119.6 600.5L120.2 598.8L120.9 597.0L121.5 595.3L122.0 593.5L122.5 591.8L123.0 590.0L123.4 588.2L123.9 586.5L124.4 584.7L124.7 582.9L124.9 581.0L125.2 579.2L125.4 577.3L125.7 575.5L125.9 573.6L126.2 571.8L126.4 569.9L126.7 568.1L126.9 566.2L127.1 564.5L127.4 562.7L127.6 561.0L127.8 559.3L128.0 557.5L128.2 555.8L128.5 554.1L128.7 552.3L128.9 550.6L129.2 548.9L129.4 547.1L129.6 545.4L129.8 543.7L130.1 542.0L130.3 540.3L130.5 538.6L130.8 537.0L131.0 535.3L131.2 533.6L131.5 531.9L131.7 530.2L133.4 530.5L135.2 530.9L136.6 529.5L137.1 527.7L137.7 525.9L138.2 524.1L138.8 522.3L139.3 520.5L139.8 518.7L140.3 516.9L140.8 515.1L141.3 513.4L141.8 511.6L142.3 509.8L142.8 508.0L143.2 506.4L143.5 504.8L143.9 503.1L144.3 501.5L144.6 499.9L145.0 498.3L145.3 496.5L145.6 494.7L146.0 492.8L146.3 491.0L146.6 489.2L146.9 487.4L147.2 485.6L147.5 483.8L147.9 481.9L148.2 480.1L148.5 478.3L148.8 476.5L149.0 474.6L149.2 472.8L149.5 471.0L149.8 469.2L150.0 467.3L150.2 465.5L150.5 463.7L150.8 461.8L151.0 460.0L151.2 458.2L151.5 456.4L151.8 454.5L152.0 452.7L152.3 450.8L152.6 449.0L152.9 447.1L153.3 445.2L153.6 443.4L153.9 441.5L155.3 440.4L156.7 439.3L158.5 439.8L159.5 438.1L160.5 436.3L161.4 435.0L162.2 433.6L163.1 432.3L164.0 431.0L164.9 429.4L165.8 427.9L166.6 426.3L167.5 424.8L168.4 423.2L169.3 421.4L170.2 419.7L171.0 417.9L171.9 416.2L173.2 414.9L174.5 413.5L176.2 413.5L178.0 413.5L179.3 414.9L180.6 416.2L181.5 417.9L182.4 419.7L183.3 421.4L184.0 423.1L184.6 424.9L185.2 426.6L185.9 428.4L186.6 430.2L187.2 431.9L187.8 432.9L188.5 435.5L189.2 437.0L189.8 438.5L190.5 439.4L191.2 441.5L191.9 442.8L192.7 445.3L194.1 446.0L195.4 447.6L196.8 448.9L198.3 449.8L199.8 451.5L200.8 452.2L201.9 453.9L202.9 455.5L204.3 455.7L205.6 457.5L207.0 457.6L208.4 459.7L209.7 459.6L211.1 461.7L212.1 463.3L213.1 464.4L214.2 466.2L215.2 466.8L216.5 468.2L217.9 469.2L219.2 470.3L221.2 471.4L223.3 471.9L225.0 472.0L226.7 472.7L228.3 473.2L230.0 472.9L231.3 474.0L232.7 475.3L234.2 476.6L235.7 477.0L237.3 477.9L238.8 477.2L240.3 478.3L241.8 479.1L243.4 480.6L244.9 480.9L246.5 482.0L248.0 482.2L249.9 483.3L251.8 482.4L253.8 482.9L255.7 483.7L257.6 484.3L259.5 484.4L261.4 484.1L263.3 483.7L265.2 483.3L267.1 483.2L269.1 483.3L271.0 482.9L272.9 482.3L274.9 481.7L276.8 481.1L278.7 480.6L280.2 480.4L281.7 478.6L283.3 478.6L284.8 477.9L286.3 476.8L287.8 476.7L289.4 474.5L290.9 474.8L292.5 474.0L294.0 473.0L295.5 471.9L297.1 470.1L298.6 469.0L300.2 468.2L301.7 467.6L303.2 467.2L304.8 465.2L306.3 464.3L307.9 463.7L309.4 463.0L310.9 462.2L312.4 461.8L314.0 461.2L315.5 459.6L317.0 459.2L318.5 459.2L320.1 457.1L321.6 457.1L323.1 456.1L324.7 455.7L326.2 455.3"/>
<path stroke="#808000" d="M37.5 652.3L39.2 652.2L41.0 652.1L42.7 652.0L44.4 652.0L46.2 651.9L47.9 651.8L49.6 651.7L51.3 651.6L53.1 651.5L54.8 651.5L56.5 651.4L58.3 651.3L60.0 651.2L61.8 651.1L63.6 651.0L65.5 650.9L67.3 650.8L69.1 650.7L70.9 650.5L72.7 650.4L74.5 650.3L76.4 650.2L78.2 650.1L80.0 650.0L81.7 649.7L83.3 649.4L85.0 649.1L86.7 648.8L88.3 648.5L90.0 648.2L91.8 647.7L93.5 647.1L95.2 646.5L97.0 646.0L98.8 645.4L100.5 644.7L102.2 644.0L104.0 643.4L104.8 641.9L105.7 640.4L106.5 638.9L107.3 637.4L108.1 635.9L108.9 634.4L109.8 632.9L110.6 631.4L111.0 629.8L111.4 628.1L111.8 626.5L112.2 624.8L112.7 623.2L113.1 621.6L113.5 619.9L113.9 618.3L114.1 616.5L114.3 614.6L114.6 612.8L114.8 611.0L115.0 609.2L115.2 607.3L115.4 605.5L115.7 603.7L115.9 601.9L116.1 600.0L116.3 598.2L116.5 596.4L116.8 594.6L117.0 592.7L117.2 590.9L117.5 589.1L117.7 587.3L118.0 585.5L118.3 583.6L118.5 581.8L118.8 580.0L119.1 578.3L119.3 576.5L119.6 574.8L119.9 573.1L120.6 571.5L121.3 569.9L122.0 568.3L122.7 566.8L123.4 565.2L124.1 563.6L124.8 562.0L125.1 560.3L125.5 558.5L125.8 556.8L126.2 555.1L126.5 553.4L126.8 551.7L127.2 549.9L127.5 548.2L127.8 546.4L128.0 544.7L128.3 542.9L128.5 541.1L128.8 539.4L129.0 537.6L129.3 535.9L129.5 534.1L129.8 532.3L130.0 530.6L130.3 528.8L130.6 527.1L130.9 525.5L131.1 523.8L131.4 522.2L131.7 520.5L132.9 519.1L134.0 517.7L135.2 516.3L136.6 514.9L137.9 513.5L138.4 511.6L139.0 509.7L139.5 507.8L140.1 505.9L140.6 504.0L141.2 502.2L141.8 500.4L142.3 498.6L142.9 496.8L143.5 495.0L143.9 493.4L144.4 491.7L144.8 490.1L145.2 488.4L145.6 486.8L146.1 485.1L146.5 483.5L146.9 481.7L147.2 479.8L147.6 478.0L148.0 476.2L148.3 474.3L148.7 472.5L149.1 470.7L149.4 468.8L149.8 467.0L150.2 465.1L150.6 463.3L150.9 461.4L151.3 459.6L151.7 457.7L152.1 455.9L152.4 454.0L152.8 452.2L153.2 450.3L154.2 448.6L155.1 446.8L156.1 445.1L157.4 443.8L158.7 442.5L160.0 441.2L161.0 440.0L162.1 438.7L163.1 437.5L165.1 436.1L165.9 434.7L166.7 433.3L167.5 431.9L168.4 430.4L169.2 428.9L170.1 427.3L171.0 425.8L172.3 424.1L173.6 422.3L174.9 421.4L176.3 420.5L178.0 422.3L178.6 423.8L179.2 425.2L179.8 426.7L181.5 428.4L182.4 429.9L183.3 431.3L184.2 432.8L185.1 434.5L185.9 436.3L186.8 438.0L187.4 439.6L188.0 441.2L188.7 443.3L189.3 443.7L189.9 446.5L190.6 447.9L191.6 449.7L192.7 450.6L193.7 452.0L195.8 452.0L197.3 452.5L198.8 454.0L199.8 454.7L200.9 456.8L201.9 457.6L203.4 458.3L204.9 460.1L206.3 460.4L207.6 462.5L209.0 463.2L210.4 465.0L211.7 464.4L213.1 466.3L214.5 467.3L215.8 468.8L217.2 469.3L219.2 470.3L221.3 470.9L223.4 472.0L225.4 472.4L227.2 472.2L229.1 473.4L230.9 473.2L232.7 473.0L234.2 473.8L235.7 473.9L237.3 475.1L238.8 476.3L240.3 476.8L241.8 477.3L243.4 477.9L244.9 478.9L246.5 479.3L248.0 479.9L249.9 480.5L251.8 480.8L253.8 481.5L255.7 481.4L257.6 481.2L259.5 481.7L261.4 480.5L263.3 480.6L265.2 479.7L267.1 479.9L269.1 479.4L271.0 479.9L272.9 480.1L274.9 478.3L276.8 478.9L278.7 478.3L280.2 477.8L281.7 477.6L283.3 476.0L284.8 476.5L286.3 475.3L287.8 474.4L289.4 474.5L290.9 473.1L292.5 473.5L294.0 472.2L295.5 470.8L297.1 469.5L298.6 468.8L300.2 467.2L301.7 466.8L303.2 466.4L304.8 464.4L306.3 463.8L307.9 463.9L309.4 462.2L310.9 462.4L312.4 460.9L314.0 461.0L315.5 459.4L317.0 459.2L318.8 458.7L320.7 458.6L322.5 457.4L324.4 456.9L326.2 456.1"/>
<path stroke="#ff8000" d="M37.5 652.2L39.2 652.1L41.0 652.0L42.7 651.9L44.4 651.8L46.2 651.7L47.9 651.6L49.6 651.6L51.3 651.5L53.1 651.4L54.8 651.3L56.5 651.2L58.3 651.1L60.0 651.0L61.8 650.9L63.6 650.7L65.5 650.6L67.3 650.5L69.1 650.4L70.9 650.2L72.7 650.1L74.5 650.0L76.4 649.9L78.2 649.7L80.0 649.6L81.7 649.2L83.3 648.9L85.0 648.5L86.7 648.2L88.3 647.9L90.0 647.5L91.8 646.9L93.5 646.2L95.2 645.6L97.0 645.0L98.5 644.3L100.0 643.6L101.5 643.0L103.0 642.3L103.7 640.7L104.3 639.0L105.0 637.4L105.7 635.8L106.4 634.1L107.1 632.5L107.7 630.8L108.4 629.2L108.8 627.4L109.1 625.6L109.5 623.7L109.9 621.9L110.2 620.1L110.6 618.3L111.0 616.4L111.3 614.6L111.7 612.8L112.0 611.0L112.2 609.1L112.5 607.3L112.8 605.5L113.1 603.7L113.3 601.8L113.6 600.0L113.9 598.2L114.2 596.4L114.5 594.5L114.7 592.7L115.0 590.9L115.2 589.1L115.4 587.3L115.5 585.5L115.7 583.6L115.9 581.8L116.1 580.0L116.2 578.3L116.4 576.5L116.5 574.8L116.7 573.1L116.8 571.3L117.0 569.6L117.2 567.9L117.3 566.1L117.5 564.4L117.6 562.7L117.8 560.9L117.9 559.2L118.1 557.4L118.2 555.5L118.4 553.7L118.6 551.8L118.7 550.0L118.9 548.2L119.1 546.3L119.2 544.5L119.4 542.6L119.6 540.8L119.7 538.9L119.9 537.1L120.8 535.7L121.7 534.4L122.5 533.0L123.4 531.6L124.1 529.9L124.8 528.1L125.5 526.4L126.2 524.6L126.5 522.9L126.9 521.1L127.2 519.4L127.6 517.7L127.9 516.0L128.2 514.2L128.6 512.5L128.9 510.8L129.7 509.0L130.4 507.1L130.8 505.1L131.3 503.1L131.7 501.1L132.6 499.6L133.5 498.0L134.3 496.8L135.2 495.5L136.0 494.0L136.8 492.5L137.6 491.0L138.3 489.2L139.1 487.4L139.8 485.5L140.6 483.7L141.1 481.9L141.6 480.0L142.2 478.2L142.7 476.3L143.2 474.5L144.4 472.9L145.7 471.4L146.8 469.6L147.8 467.9L148.7 466.6L149.5 465.3L150.4 464.0L151.2 462.2L152.0 460.4L152.7 458.6L153.5 456.8L154.3 455.0L155.5 453.6L156.7 452.1L158.4 451.4L160.1 450.6L160.9 449.0L161.8 447.3L162.6 445.6L163.4 444.0L164.6 442.4L165.8 440.7L168.2 439.7L169.3 438.4L170.5 437.0L171.9 435.8L173.3 434.6L175.4 434.6L177.4 434.6L179.4 436.1L180.2 437.7L180.9 439.2L181.7 440.8L182.5 442.3L183.5 443.8L184.6 445.4L185.6 446.9L186.6 448.4L187.4 450.1L188.3 451.2L189.1 453.5L190.6 453.6L192.2 455.5L193.7 456.6L195.2 457.3L196.8 457.1L198.8 458.6L200.2 459.5L201.5 460.6L202.9 461.7L204.6 461.8L206.3 463.7L208.0 464.7L209.4 466.6L210.7 467.4L212.1 467.8L213.6 469.5L215.2 470.3L217.2 470.4L219.2 471.9L221.3 472.8L223.3 472.9L225.4 472.4L226.9 471.9L228.5 473.0L230.0 472.9L232.1 472.0L234.2 473.0L235.7 472.8L237.2 473.8L238.8 474.1L240.3 475.3L242.2 476.2L244.2 476.7L246.1 476.1L248.0 476.8L249.9 476.1L251.8 475.3L253.8 474.9L255.7 475.3L257.6 475.5L259.5 475.1L261.4 473.9L263.3 474.5L265.2 474.1L267.1 473.6L269.1 474.0L271.0 473.0L272.9 473.0L274.9 472.4L276.8 471.9L278.7 471.4L280.6 471.7L282.5 471.2L284.4 469.4L286.3 469.1L288.2 468.0L290.1 468.5L292.1 466.5L294.0 466.8L295.5 465.9L297.1 464.8L298.6 464.7L300.2 463.6L301.7 463.8L303.2 462.8L304.8 463.1L306.3 462.7L307.9 461.9L309.4 460.7L311.3 460.2L313.2 459.8L315.1 458.7L317.0 458.4L318.8 457.5L320.7 457.7L322.5 457.9L324.4 456.4L326.2 456.9"/>
<path stroke="#ff0000" d="M37.5 652.1L39.2 652.0L40.9 651.8L42.7 651.7L44.4 651.5L46.1 651.4L47.8 651.2L49.5 651.1L51.2 650.9L53.0 650.8L54.7 650.6L56.4 650.5L58.1 650.4L59.8 650.3L61.5 650.2L63.2 650.1L65.0 649.9L66.7 649.8L68.4 649.7L70.1 649.6L71.8 649.5L73.4 649.4L75.1 649.3L76.7 649.3L78.4 649.2L80.0 649.1L82.0 648.3L83.6 647.9L85.2 647.5L86.9 647.2L88.5 646.8L90.1 646.4L91.6 645.6L93.2 644.9L94.8 644.1L96.3 643.4L97.6 642.4L98.8 641.3L100.1 640.3L101.4 639.3L102.4 637.6L103.4 635.9L104.4 634.2L105.0 632.5L105.6 630.9L106.2 629.2L106.6 627.4L106.9 625.6L107.3 623.7L107.7 621.9L108.0 620.1L108.4 618.3L108.8 616.4L109.1 614.6L109.5 612.8L109.9 611.0L110.2 609.2L110.6 607.3L111.0 605.5L111.3 603.7L111.7 601.9L112.1 600.0L112.4 598.2L112.8 596.4L113.1 594.5L113.3 592.6L113.6 590.7L113.9 588.8L114.1 586.9L114.4 585.0L114.6 583.2L114.7 581.3L114.9 579.5L115.0 577.6L115.2 575.8L115.3 573.9L115.5 572.1L115.6 570.3L115.8 568.4L115.9 566.6L116.0 564.7L116.2 562.9L116.3 561.0L116.5 559.2L116.6 557.4L116.7 555.5L116.8 553.7L116.9 551.8L117.0 550.0L117.1 548.2L117.2 546.3L117.2 544.5L117.3 542.6L117.4 540.8L117.5 539.0L117.6 537.1L117.7 535.3L117.8 533.4L117.9 531.6L118.0 529.9L118.1 528.1L118.2 526.4L118.3 524.7L118.4 522.9L118.6 521.2L118.7 519.5L118.8 517.7L118.9 516.0L119.0 514.3L119.1 512.5L119.2 510.8L119.5 509.0L119.7 507.1L120.2 505.1L120.7 503.0L121.2 501.0L122.8 500.0L124.3 499.0L125.8 497.9L127.3 496.9L128.0 495.4L128.6 493.9L129.2 492.3L129.9 490.8L130.5 489.0L131.2 487.2L131.8 485.5L132.4 483.7L133.4 482.1L134.5 480.6L135.0 479.0L135.5 477.3L136.0 475.7L136.5 474.0L137.0 472.4L137.5 470.8L138.0 469.2L138.6 467.5L139.1 465.9L139.6 464.3L140.3 462.8L140.9 461.2L141.6 459.7L142.8 458.7L144.0 457.6L145.2 456.6L146.4 458.0L147.6 459.3L148.8 460.7L150.3 460.4L151.7 460.0L153.2 459.7L154.6 460.0L156.1 460.3L157.1 458.9L158.0 457.6L159.0 456.2L160.2 455.0L161.3 453.9L162.5 452.7L163.7 451.5L165.1 449.9L166.8 449.1L168.5 448.2L170.2 447.4L171.2 448.4L172.3 449.4L173.0 448.0L173.6 446.7L174.3 445.3L176.3 445.8L177.4 447.6L178.4 449.4L179.9 450.7L181.5 452.0L182.3 453.4L183.1 454.8L183.9 456.3L184.7 457.7L185.5 459.1L187.6 460.1L188.8 458.5L190.1 458.4L191.3 460.1L192.5 460.1L193.7 461.7L195.8 462.0L197.8 462.2L199.4 461.6L200.9 463.2L201.9 465.5L202.9 465.8L204.9 467.0L207.0 466.3L208.0 466.8L209.0 470.4L210.0 470.9L211.6 469.8L213.1 470.3L214.5 470.7L215.8 472.3L217.2 472.9L218.8 473.2L220.3 471.4L222.0 472.4L223.7 470.6L225.4 471.9L226.9 471.9L228.5 472.0L230.0 471.9L232.1 471.3L234.2 470.7L235.7 472.1L237.3 471.5L238.8 473.0L240.6 473.4L242.5 471.6L244.3 471.7L246.2 471.5L248.0 472.2L249.9 471.2L251.8 471.4L253.8 470.4L255.7 469.9L257.6 470.6L259.5 469.4L261.4 470.4L263.3 469.9L264.9 470.0L266.4 468.8L267.9 468.4L269.5 468.4L271.3 469.2L273.2 468.0L275.0 468.5L276.9 467.7L278.7 466.8L280.6 467.2L282.5 465.8L284.4 465.6L286.3 465.3L288.2 464.7L290.1 465.7L292.1 463.4L294.0 463.8L295.9 464.5L297.9 462.8L299.8 462.4L301.7 462.2L303.6 461.5L305.5 460.8L307.5 460.4L309.4 459.9L311.3 458.5L313.2 458.2L315.1 459.3L317.0 458.4L318.8 458.3L320.7 456.4L322.5 456.6L324.4 455.9L326.2 456.1"/>
</g>
<rect x="37.5" y="380.6" width="289.1" height="272.4" fill="none" stroke="#8a8a8a" stroke-width="1"/>
<line x1="37.5" y1="653.0" x2="37.5" y2="657.2" stroke="#777" stroke-width="0.8"/>
<text x="37.5" y="668.7" font-size="9.00" text-anchor="middle" font-weight="normal" fill="#2b2b2b" textLength="23.6" lengthAdjust="spacingAndGlyphs">8,960</text>
<line x1="73.6" y1="653.0" x2="73.6" y2="657.2" stroke="#777" stroke-width="0.8"/>
<text x="73.6" y="668.7" font-size="9.00" text-anchor="middle" font-weight="normal" fill="#2b2b2b" textLength="23.6" lengthAdjust="spacingAndGlyphs">8,970</text>
<line x1="109.8" y1="653.0" x2="109.8" y2="657.2" stroke="#777" stroke-width="0.8"/>
<text x="109.8" y="668.7" font-size="9.00" text-anchor="middle" font-weight="normal" fill="#2b2b2b" textLength="23.6" lengthAdjust="spacingAndGlyphs">8,980</text>
<line x1="145.9" y1="653.0" x2="145.9" y2="657.2" stroke="#777" stroke-width="0.8"/>
<text x="145.9" y="668.7" font-size="9.00" text-anchor="middle" font-weight="normal" fill="#2b2b2b" textLength="23.6" lengthAdjust="spacingAndGlyphs">8,990</text>
<line x1="182.1" y1="653.0" x2="182.1" y2="657.2" stroke="#777" stroke-width="0.8"/>
<text x="182.1" y="668.7" font-size="9.00" text-anchor="middle" font-weight="normal" fill="#2b2b2b" textLength="23.6" lengthAdjust="spacingAndGlyphs">9,000</text>
<line x1="218.2" y1="653.0" x2="218.2" y2="657.2" stroke="#777" stroke-width="0.8"/>
<text x="218.2" y="668.7" font-size="9.00" text-anchor="middle" font-weight="normal" fill="#2b2b2b" textLength="23.6" lengthAdjust="spacingAndGlyphs">9,010</text>
<line x1="254.3" y1="653.0" x2="254.3" y2="657.2" stroke="#777" stroke-width="0.8"/>
<text x="254.3" y="668.7" font-size="9.00" text-anchor="middle" font-weight="normal" fill="#2b2b2b" textLength="23.6" lengthAdjust="spacingAndGlyphs">9,020</text>
<line x1="290.5" y1="653.0" x2="290.5" y2="657.2" stroke="#777" stroke-width="0.8"/>
<text x="290.5" y="668.7" font-size="9.00" text-anchor="middle" font-weight="normal" fill="#2b2b2b" textLength="23.6" lengthAdjust="spacingAndGlyphs">9,030</text>
<line x1="326.6" y1="653.0" x2="326.6" y2="657.2" stroke="#777" stroke-width="0.8"/>
<text x="326.6" y="668.7" font-size="9.00" text-anchor="middle" font-weight="normal" fill="#2b2b2b" textLength="23.6" lengthAdjust="spacingAndGlyphs">9,040</text>
<text x="182.1" y="683.6" font-size="10.00" text-anchor="middle" font-weight="normal" fill="#2b2b2b" textLength="55.5" lengthAdjust="spacingAndGlyphs">Energy (eV)</text>
<text transform="translate(26.3 517.1) rotate(-90)" font-size="10" text-anchor="middle" fill="#2b2b2b" textLength="79.7" lengthAdjust="spacingAndGlyphs">Absorption (a.u.)</text>
<rect x="167.6" y="523.4" width="86.8" height="81.6" fill="#fff" stroke="none"/>
<clipPath id="cci"><rect x="167.6" y="523.4" width="86.8" height="81.6"/></clipPath>
<g clip-path="url(#cci)" fill="none" stroke-width="1.55" stroke-linejoin="round" stroke-linecap="round">
<path stroke="#0000ff" d="M167.7 597.4L173.1 597.6L178.4 595.9L186.5 595.9L191.9 593.9L199.9 591.9L208.0 590.5L217.4 587.8L222.8 583.1L229.5 579.1L234.8 577.1L239.5 579.1L244.2 579.1L249.6 576.4L254.3 573.1L256.0 572.0"/>
<path stroke="#00f6ff" d="M167.7 597.2L178.4 595.2L191.9 593.2L205.3 590.5L216.0 587.2L222.8 581.8L229.5 576.4L234.8 573.7L238.9 574.4L244.2 571.7L248.9 570.4L254.3 562.3L256.0 559.0"/>
<path stroke="#00f000" d="M167.7 596.6L178.4 593.9L191.9 591.9L205.3 588.5L214.7 585.1L221.4 580.4L228.1 573.1L234.8 569.0L238.9 567.7L244.2 563.0L249.6 553.6L254.3 539.5L256.0 534.0"/>
<path stroke="#808000" d="M167.7 595.2L178.4 592.5L191.9 590.5L205.3 586.5L213.4 583.1L221.4 577.8L226.8 571.7L232.2 565.7L238.9 562.3L244.2 554.9L248.3 545.5L251.6 533.4L253.6 523.4L254.3 519.0"/>
<path stroke="#ff8000" d="M167.7 593.9L178.4 591.9L191.9 588.5L205.3 583.8L213.4 579.8L221.4 573.1L229.5 563.0L236.2 554.9L240.2 546.9L243.6 536.1L246.3 523.4L247.0 519.0"/>
<path stroke="#ff0000" d="M167.7 592.5L173.1 591.2L178.4 590.5L183.8 589.2L187.8 589.8L191.9 586.5L197.2 585.1L202.6 583.1L206.6 581.8L210.7 579.1L214.7 577.1L218.7 573.1L222.8 569.7L226.8 565.0L230.8 558.3L234.8 551.6L238.9 542.2L241.6 533.4L244.2 523.4L245.0 519.0"/>
</g>
<rect x="167.6" y="523.4" width="86.8" height="81.6" fill="none" stroke="#6a6a6a" stroke-width="0.9"/>
<line x1="167.6" y1="605.0" x2="167.6" y2="608.8" stroke="#777" stroke-width="0.8"/>
<text x="167.6" y="620.8" font-size="9.00" text-anchor="middle" font-weight="normal" fill="#2b2b2b" textLength="23.6" lengthAdjust="spacingAndGlyphs">8,970</text>
<line x1="211.0" y1="605.0" x2="211.0" y2="608.8" stroke="#777" stroke-width="0.8"/>
<text x="211.0" y="620.8" font-size="9.00" text-anchor="middle" font-weight="normal" fill="#2b2b2b" textLength="23.6" lengthAdjust="spacingAndGlyphs">8,975</text>
<line x1="254.4" y1="605.0" x2="254.4" y2="608.8" stroke="#777" stroke-width="0.8"/>
<text x="254.4" y="620.8" font-size="9.00" text-anchor="middle" font-weight="normal" fill="#2b2b2b" textLength="23.6" lengthAdjust="spacingAndGlyphs">8,980</text>
<line x1="281.0" y1="598.3" x2="289.3" y2="598.3" stroke="#2020ff" stroke-width="1.1"/>
<text x="292.7" y="600.9" font-size="9.50" text-anchor="start" font-weight="normal" fill="#2b2b2b">24 °C</text>
<line x1="281.0" y1="608.0" x2="289.3" y2="608.0" stroke="#50faff" stroke-width="1.1"/>
<text x="292.7" y="610.6" font-size="9.50" text-anchor="start" font-weight="normal" fill="#2b2b2b">94 °C</text>
<line x1="281.0" y1="617.8" x2="289.3" y2="617.8" stroke="#50f550" stroke-width="1.1"/>
<text x="292.7" y="620.4" font-size="9.50" text-anchor="start" font-weight="normal" fill="#2b2b2b">203 °C</text>
<line x1="281.0" y1="627.5" x2="289.3" y2="627.5" stroke="#80802a" stroke-width="1.1"/>
<text x="292.7" y="630.1" font-size="9.50" text-anchor="start" font-weight="normal" fill="#2b2b2b">292 °C</text>
<line x1="281.0" y1="637.3" x2="289.3" y2="637.3" stroke="#ff9a3c" stroke-width="1.1"/>
<text x="292.7" y="639.9" font-size="9.50" text-anchor="start" font-weight="normal" fill="#2b2b2b">402 °C</text>
<line x1="281.0" y1="647.0" x2="289.3" y2="647.0" stroke="#ff3030" stroke-width="1.1"/>
<text x="292.7" y="649.6" font-size="9.50" text-anchor="start" font-weight="normal" fill="#2b2b2b">490 °C</text>
<clipPath id="cd"><rect x="383.2" y="380.6" width="289.1" height="272.4"/></clipPath>
<g clip-path="url(#cd)" fill="none" stroke-width="1.55" stroke-linejoin="round" stroke-linecap="round">
<path stroke="#0000ff" d="M383.6 652.1L385.4 652.1L387.1 652.0L388.9 652.0L390.6 652.0L392.4 651.9L394.1 651.9L395.9 651.9L397.6 651.9L399.4 651.8L401.1 651.8L402.9 651.8L404.6 651.7L406.4 651.7L408.1 651.7L409.9 651.6L411.6 651.6L413.3 651.5L415.0 651.3L416.7 651.2L418.4 651.0L420.2 650.9L421.9 650.7L423.6 650.6L425.3 650.4L427.0 650.3L428.9 650.0L430.7 649.7L432.6 649.4L434.5 649.1L436.3 648.8L438.2 648.5L439.7 648.0L441.2 647.5L442.8 647.0L444.3 646.5L446.9 646.7L448.4 646.5L449.8 646.6L451.2 646.7L453.0 645.8L454.7 644.9L456.5 644.1L458.2 643.2L460.0 642.3L460.8 640.6L461.5 638.9L462.3 637.2L463.1 635.4L463.9 633.7L464.6 632.0L465.4 630.3L466.7 629.0L468.0 627.7L469.4 626.3L470.7 625.0L472.0 623.7L472.7 621.8L473.4 619.9L474.0 618.0L474.7 616.1L474.9 614.3L475.1 612.5L475.3 610.8L475.5 609.0L475.8 607.2L476.0 605.5L476.2 603.7L476.4 601.9L476.6 600.2L476.7 598.5L476.9 596.7L477.1 595.0L477.3 593.3L477.4 591.6L477.6 589.9L477.8 588.2L478.0 586.4L478.1 584.7L478.3 583.0L478.5 581.2L478.7 579.4L478.9 577.5L479.1 575.7L479.3 573.9L479.5 572.1L479.7 570.2L479.9 568.4L480.1 566.6L480.3 564.8L480.5 562.9L480.7 561.1L480.9 559.3L481.2 557.4L481.5 555.6L481.8 553.7L482.1 551.9L482.4 550.0L482.7 548.2L483.0 546.3L483.3 544.5L483.6 542.6L484.0 540.9L484.5 539.1L484.9 537.4L485.4 535.7L485.8 534.0L486.2 532.2L486.7 530.5L487.1 528.8L487.6 527.1L488.2 525.4L488.7 523.7L489.2 522.0L489.8 520.3L490.3 518.6L490.8 516.9L491.4 515.2L491.9 513.5L492.1 511.8L492.4 510.1L492.6 508.4L492.9 506.8L493.1 505.1L493.3 503.4L493.6 501.7L493.8 500.0L494.3 498.3L494.8 496.7L495.3 495.0L495.8 493.3L496.3 491.7L496.8 490.0L496.9 488.3L496.9 486.5L497.0 484.8L497.1 483.1L497.2 481.3L497.2 479.6L497.3 477.8L497.4 476.1L497.5 474.4L497.5 472.6L497.6 470.9L497.9 469.1L498.1 467.2L498.4 465.4L498.6 463.5L498.9 461.7L499.1 459.8L499.4 458.0L499.6 456.1L499.9 454.3L500.1 452.4L500.4 450.6L500.6 448.7L500.9 446.9L501.2 445.3L501.6 443.6L501.9 442.0L502.1 440.3L502.3 438.7L502.5 437.0L502.8 435.3L503.0 433.6L503.2 432.0L503.4 430.3L504.0 428.5L504.7 426.8L505.3 425.0L505.6 423.1L505.9 421.1L506.2 419.2L506.5 417.2L506.8 415.3L507.2 413.5L507.7 411.8L508.1 410.0L508.5 408.3L508.9 406.5L509.4 404.8L509.8 403.0L510.5 401.4L511.3 399.8L512.0 398.2L513.8 400.0L515.8 399.6L517.7 399.1L518.7 400.4L519.8 401.7L520.8 403.0L522.1 404.8L523.4 406.5L525.1 407.8L525.8 409.2L526.5 410.6L527.1 412.1L527.8 413.5L528.7 415.3L529.5 417.0L530.4 418.8L530.9 420.4L531.5 422.1L532.0 423.7L532.5 425.3L533.1 426.8L533.8 428.8L534.4 429.9L535.1 430.9L535.7 432.8L536.5 433.8L537.2 436.0L537.6 438.1L537.9 438.7L538.3 440.7L538.8 441.8L539.4 444.1L540.0 444.8L540.5 446.9L541.0 449.0L541.6 450.2L542.5 452.0L543.4 453.0L544.2 455.3L545.1 457.1L546.0 459.0L547.1 460.3L548.2 461.3L549.3 463.3L550.4 464.4L551.5 465.5L552.6 467.6L553.7 468.0L554.8 470.2L555.9 471.0L557.2 472.1L558.6 472.8L559.9 474.0L561.3 474.3L562.7 474.7L564.0 475.6L565.4 477.2L566.8 477.6L568.4 478.6L570.0 479.1L571.2 480.9L573.1 482.2L575.0 482.5L577.1 483.3L579.2 483.7L580.7 484.9L582.3 485.9L583.8 487.0L585.4 487.0L586.9 488.3L588.7 489.1L590.5 489.6L592.2 490.1L594.0 490.2L595.8 490.8L597.6 490.6L599.4 490.9L601.2 490.8L603.0 492.4L604.7 492.7L606.5 491.9L608.3 492.9L610.2 492.7L612.1 491.6L614.1 491.7L616.0 490.6L617.8 489.7L619.7 489.8L621.5 489.6L623.4 488.9L625.2 488.3L626.7 487.9L628.3 487.2L629.8 486.5L631.3 485.4L632.9 484.5L634.4 484.5L635.9 484.1L637.5 483.0L639.0 482.1L640.5 480.9L642.1 480.7L643.6 479.1L645.1 478.4L646.7 477.1L648.2 476.0L649.7 474.8L651.3 474.2L652.8 473.0L654.3 471.5L655.9 471.1L657.4 470.3L658.9 469.9L660.5 469.9L662.0 468.4L663.5 467.6L665.1 466.1L666.6 466.0L668.1 465.2L669.7 463.3L671.2 463.0"/>
<path stroke="#00f6ff" d="M383.6 652.2L385.4 652.2L387.1 652.1L388.9 652.1L390.6 652.1L392.4 652.0L394.1 652.0L395.9 652.0L397.6 652.0L399.4 651.9L401.1 651.9L402.9 651.9L404.6 651.8L406.4 651.8L408.1 651.8L409.9 651.7L411.6 651.7L413.3 651.6L415.0 651.4L416.7 651.3L418.4 651.1L420.2 651.0L421.9 650.8L423.6 650.7L425.3 650.5L427.0 650.4L428.9 650.1L430.7 649.9L432.6 649.6L434.5 649.3L436.3 649.1L438.2 648.8L439.8 648.0L441.4 647.2L443.1 646.4L444.7 645.6L446.6 645.3L448.5 645.0L450.4 644.8L452.3 644.5L453.7 643.7L455.1 642.9L456.4 642.0L457.8 641.2L458.4 639.6L458.9 637.9L459.4 636.3L460.0 634.7L460.6 633.0L461.1 631.4L461.6 629.7L462.2 628.1L462.6 626.3L463.0 624.5L463.4 622.8L463.8 621.0L464.2 619.2L464.6 617.5L465.0 615.7L465.4 613.9L466.5 612.2L467.6 610.6L468.7 608.9L469.8 607.3L470.2 605.7L470.7 604.0L471.1 602.4L471.6 600.8L472.1 599.1L472.5 597.5L472.7 595.8L473.0 594.1L473.2 592.4L473.5 590.6L473.7 588.9L474.0 587.2L474.2 585.5L474.4 583.7L474.5 581.8L474.7 580.0L474.8 578.2L474.9 576.5L475.0 574.7L475.0 572.9L475.1 571.1L475.2 569.4L475.3 567.6L475.5 565.9L475.8 564.2L476.0 562.5L476.2 560.8L476.5 559.1L476.7 557.4L476.9 555.7L477.2 554.0L477.4 552.3L478.1 550.6L478.8 548.8L479.5 547.1L480.2 545.4L481.2 543.7L482.2 542.0L483.3 540.2L484.3 538.5L484.8 536.8L485.4 535.0L485.9 533.3L486.4 531.5L486.9 529.8L487.4 528.1L488.0 526.3L488.5 524.6L488.9 522.9L489.4 521.1L489.8 519.4L490.2 517.7L490.6 516.0L491.0 514.2L491.5 512.5L491.9 510.8L492.1 509.0L492.4 507.2L492.6 505.4L492.8 503.6L493.1 501.8L493.3 500.0L494.0 498.4L494.7 496.9L495.1 495.2L495.4 493.4L495.8 491.7L496.1 490.0L496.1 488.2L496.2 486.5L496.2 484.7L496.3 483.0L496.3 481.2L496.4 479.5L496.4 477.7L496.5 476.0L496.5 474.2L496.8 472.5L497.1 470.7L497.3 469.0L497.6 467.3L497.9 465.5L498.1 463.8L498.4 462.1L498.7 460.3L499.0 458.6L499.2 456.9L499.5 455.1L499.8 453.4L500.1 451.7L500.5 450.0L501.1 448.4L501.8 446.8L502.5 445.2L503.1 443.6L503.9 442.1L504.7 440.7L505.5 439.2L506.2 437.4L506.8 435.5L507.5 433.7L508.8 431.6L509.6 430.2L510.3 428.9L511.1 427.5L512.1 426.2L513.1 425.0L514.2 422.7L515.8 421.2L517.3 419.7L518.6 418.6L519.9 417.5L521.6 417.5L523.4 417.5L524.2 418.6L525.1 419.7L527.8 419.7L528.7 421.4L529.6 423.2L530.5 424.9L531.3 426.7L532.2 428.4L533.0 430.2L534.1 431.3L535.3 432.6L536.3 434.0L537.3 436.7L538.3 438.0L539.2 439.6L540.0 441.0L540.9 442.0L541.4 443.5L541.8 444.9L542.2 447.7L542.7 449.1L543.8 450.0L544.9 451.5L546.0 453.1L547.1 454.6L548.6 455.3L550.0 456.8L551.5 457.9L552.6 458.7L553.7 460.1L554.8 462.3L555.9 463.3L557.2 464.4L558.6 466.1L559.9 466.9L561.3 468.8L562.7 470.5L564.0 471.0L565.4 472.4L566.8 474.3L568.4 474.8L570.0 475.3L571.7 475.6L573.3 476.6L575.0 477.0L576.4 479.1L577.8 480.6L579.2 481.4L580.7 482.2L582.3 482.4L583.8 483.4L585.3 484.0L586.9 484.5L588.4 485.2L590.2 486.2L592.1 486.3L593.9 487.7L595.8 487.6L597.6 488.3L599.4 488.8L601.3 489.4L603.1 489.8L605.0 489.0L606.8 489.8L608.6 490.3L610.5 490.4L612.3 490.5L614.2 490.1L616.0 489.8L617.8 488.9L619.7 488.2L621.5 488.7L623.4 487.5L625.2 487.5L626.7 486.5L628.3 486.4L629.8 485.9L631.3 484.1L632.9 483.7L634.4 482.9L635.9 481.5L637.5 480.6L639.0 479.9L640.5 478.9L642.1 478.5L643.6 476.8L645.1 476.1L646.7 474.6L648.2 474.0L649.7 472.3L651.3 472.4L652.8 470.7L654.3 469.7L655.9 469.1L657.4 468.3L658.9 468.3L660.5 467.6L662.0 466.8L663.8 466.7L665.7 465.0L667.5 465.4L669.4 464.4L671.2 463.8"/>
<path stroke="#00f000" d="M383.6 652.1L385.4 652.0L387.2 651.9L388.9 651.8L390.7 651.7L392.5 651.6L394.3 651.5L396.1 651.4L397.8 651.3L399.6 651.2L401.4 651.1L403.2 651.0L405.1 650.9L406.9 650.8L408.8 650.7L410.6 650.5L412.4 650.4L414.3 650.3L416.1 650.2L418.0 650.1L419.8 650.0L421.5 649.8L423.3 649.6L425.0 649.4L426.8 649.1L428.5 648.9L430.3 648.7L432.0 648.5L433.6 648.2L435.2 647.9L436.8 647.6L438.4 647.3L440.0 647.0L441.5 646.4L443.0 645.8L444.5 645.1L446.0 644.5L447.7 643.4L449.5 642.3L451.2 641.2L451.8 639.5L452.5 637.8L453.1 636.1L453.7 634.3L454.3 632.6L455.0 630.9L455.6 629.2L456.0 627.4L456.3 625.6L456.7 623.7L457.1 621.9L457.4 620.1L457.8 618.3L458.2 616.4L458.5 614.6L458.9 612.8L459.2 611.0L459.4 609.1L459.7 607.3L460.0 605.5L460.3 603.7L460.5 601.8L460.8 600.0L461.1 598.2L461.4 596.4L461.6 594.5L461.9 592.7L462.2 590.9L462.4 589.1L462.6 587.3L462.8 585.5L462.9 583.6L463.1 581.8L463.3 580.0L463.4 578.1L463.5 576.2L463.6 574.3L463.8 572.4L463.9 570.5L464.0 568.6L464.1 566.7L464.2 564.8L464.9 562.7L465.6 560.6L466.8 559.0L467.9 557.4L469.1 555.8L469.8 554.2L470.5 552.7L471.2 551.1L471.9 549.6L472.2 547.9L472.5 546.2L472.8 544.5L473.1 542.8L473.4 541.1L473.7 539.4L474.0 537.7L474.3 536.0L474.6 534.3L474.9 532.5L475.2 530.8L475.5 529.0L475.8 527.2L476.1 525.4L476.4 523.7L476.7 521.9L477.4 520.2L478.1 518.5L478.8 516.9L479.5 515.2L480.2 513.5L481.2 511.8L482.1 510.2L483.1 508.5L484.0 506.9L485.0 505.2L485.5 503.6L485.9 502.1L486.4 500.6L486.9 499.0L487.5 497.2L488.1 495.4L488.7 493.6L489.3 491.8L489.9 490.0L490.5 488.1L491.1 486.2L491.6 484.4L492.2 482.7L492.7 480.9L493.3 479.2L493.8 477.4L494.3 475.7L494.9 473.9L495.4 472.2L496.0 470.4L496.5 468.7L496.9 467.0L497.3 465.2L497.7 463.5L498.1 461.7L498.4 460.0L498.8 458.3L499.2 456.5L499.6 454.8L500.0 453.0L500.4 451.3L501.9 450.2L503.3 449.1L505.3 448.0L505.9 446.5L506.5 445.0L507.1 443.5L507.7 442.0L508.6 441.0L510.2 439.6L511.8 438.1L513.2 437.2L514.6 436.3L515.5 435.1L516.4 433.8L517.2 432.6L518.1 431.5L519.4 430.8L520.8 430.0L522.1 429.3L523.4 429.7L524.3 431.4L525.2 433.0L526.1 434.7L527.2 436.1L528.4 437.5L529.5 438.9L530.4 440.3L531.2 441.7L532.2 443.0L533.1 444.3L534.0 446.0L535.0 446.9L536.1 448.4L537.2 450.2L538.3 451.3L539.8 452.7L541.2 453.6L542.7 454.0L544.2 455.4L545.6 457.3L547.1 457.9L548.6 459.3L550.0 460.9L551.5 462.2L553.0 462.5L554.4 463.7L555.9 465.5L557.3 467.4L558.8 468.1L560.2 469.4L562.0 469.7L563.9 470.5L565.7 471.5L567.1 471.7L568.6 472.2L570.0 473.0L571.7 473.7L573.3 472.7L575.0 473.7L576.4 474.1L577.8 476.1L579.2 476.8L581.0 477.6L582.9 477.3L584.7 478.0L586.6 479.4L588.4 479.9L590.2 479.6L592.1 480.4L593.9 480.6L595.8 480.3L597.6 480.6L599.4 480.0L601.3 480.4L603.1 480.9L605.0 481.7L606.8 481.1L608.6 480.9L610.5 480.6L612.3 480.1L614.2 479.8L616.0 479.9L617.8 479.6L619.7 478.8L621.5 478.9L623.4 477.7L625.2 477.6L627.0 476.5L628.9 476.9L630.7 476.2L632.6 474.6L634.4 474.5L635.9 473.0L637.5 473.4L639.0 472.1L640.5 470.2L642.1 470.8L643.6 469.1L645.1 468.9L646.7 468.3L648.2 466.4L649.7 465.6L651.3 466.0L652.8 464.5L654.6 463.2L656.5 462.6L658.3 461.9L660.2 462.8L662.0 461.5L663.8 460.6L665.7 460.0L667.5 460.7L669.4 459.1L671.2 459.2"/>
<path stroke="#808000" d="M383.6 652.0L385.4 651.9L387.2 651.8L388.9 651.7L390.7 651.6L392.5 651.5L394.3 651.3L396.1 651.2L397.8 651.1L399.6 651.0L401.4 650.9L403.2 650.8L405.1 650.7L406.9 650.6L408.8 650.5L410.6 650.3L412.4 650.2L414.3 650.1L416.1 650.0L418.0 649.9L419.8 649.8L421.5 649.6L423.3 649.3L425.0 649.1L426.8 648.9L428.5 648.7L430.3 648.4L432.0 648.2L433.6 647.9L435.2 647.5L436.8 647.2L438.4 646.8L440.0 646.5L441.5 645.8L443.0 645.0L444.5 644.2L446.0 643.5L447.3 642.4L448.6 641.2L449.9 640.1L451.2 639.0L451.6 637.4L452.0 635.7L452.4 634.1L452.9 632.5L453.3 630.8L453.7 629.2L454.1 627.5L454.5 625.9L454.8 624.1L455.2 622.4L455.5 620.6L455.8 618.9L456.1 617.1L456.5 615.4L456.8 613.6L457.1 611.9L457.5 610.1L457.8 608.4L458.1 606.6L458.4 604.8L458.6 603.0L458.9 601.1L459.2 599.3L459.5 597.5L459.7 595.7L460.0 593.9L460.3 592.0L460.6 590.2L460.8 588.4L461.1 586.6L461.3 585.0L461.5 583.3L461.7 581.6L461.9 580.0L462.0 578.2L462.1 576.4L462.2 574.5L462.2 572.7L462.3 570.9L462.4 569.1L462.5 567.3L462.6 565.4L462.7 563.6L462.7 561.8L462.8 560.0L462.9 558.1L463.0 556.3L463.1 554.5L463.2 552.7L463.2 550.9L463.3 549.0L463.4 547.2L463.5 545.4L463.6 543.6L463.8 541.8L463.9 540.1L464.1 538.3L464.2 536.5L464.4 534.7L464.6 533.0L464.7 531.2L464.9 529.4L465.0 527.6L465.2 525.8L465.3 524.1L465.5 522.3L465.6 520.5L466.3 519.1L467.0 517.7L467.7 516.3L469.4 516.3L471.2 516.3L471.9 514.9L472.5 513.6L473.2 512.2L473.8 510.5L474.3 508.9L474.9 507.2L475.4 505.6L476.0 503.9L476.4 501.9L476.9 500.0L477.5 498.5L478.2 497.0L478.8 495.5L479.1 493.8L479.3 492.2L479.6 490.5L480.5 489.1L481.4 487.6L482.3 486.2L483.0 484.5L483.6 482.7L484.3 481.0L484.9 479.2L485.6 477.5L486.3 476.0L486.9 474.4L487.6 472.9L488.2 471.3L488.9 469.8L490.4 469.1L491.8 468.3L493.3 467.6L494.7 466.7L496.2 465.8L497.6 464.9L498.5 463.1L499.5 461.3L500.4 459.5L501.3 457.7L502.3 455.8L503.2 454.0L504.8 452.6L506.4 451.2L507.0 449.9L507.7 448.5L509.6 446.9L512.0 446.4L513.6 445.3L515.3 444.2L516.7 443.1L518.0 442.0L519.4 440.9L520.8 439.8L522.2 440.9L523.5 442.0L524.9 443.1L526.3 444.2L527.4 445.6L528.5 447.1L529.6 448.5L530.7 449.8L531.8 451.1L532.9 452.4L534.0 453.0L535.0 454.6L536.6 454.8L538.3 455.1L539.4 457.0L540.5 456.7L541.6 458.4L543.2 459.1L544.9 459.0L546.5 461.0L548.2 461.7L549.3 463.2L550.4 463.7L551.5 465.5L553.1 466.1L554.8 467.7L556.2 468.5L557.7 470.4L559.1 470.5L560.8 470.6L562.4 470.8L564.1 471.7L565.7 472.1L567.9 472.2L570.0 472.2L571.8 471.9L573.7 473.2L575.5 473.5L577.4 473.1L579.2 473.7L581.0 474.2L582.9 474.2L584.7 475.3L586.6 475.8L588.4 476.0L590.2 476.3L592.1 475.6L593.9 476.0L595.8 476.0L597.6 475.3L599.4 474.9L601.3 474.9L603.1 474.0L605.0 473.8L606.8 473.7L608.6 473.8L610.5 473.8L612.3 473.6L614.2 473.2L616.0 473.0L617.8 472.7L619.7 472.5L621.5 472.4L623.4 471.9L625.2 471.4L627.0 470.7L628.9 470.6L630.7 469.7L632.6 469.2L634.4 469.1L636.2 468.2L638.1 468.4L639.9 468.0L641.8 467.2L643.6 466.8L645.1 465.6L646.7 466.2L648.2 465.5L649.7 464.5L651.3 462.8L652.8 463.0L654.6 462.6L656.5 462.7L658.3 461.7L660.2 461.7L662.0 460.7L663.8 461.1L665.7 460.3L667.5 459.4L669.4 459.8L671.2 459.2"/>
<path stroke="#ff8000" d="M383.6 651.9L385.4 651.8L387.2 651.7L388.9 651.5L390.7 651.4L392.5 651.3L394.3 651.2L396.1 651.1L397.8 650.9L399.6 650.8L401.4 650.7L403.2 650.6L405.1 650.5L406.9 650.3L408.8 650.2L410.6 650.1L412.4 650.0L414.3 649.9L416.1 649.7L418.0 649.6L419.8 649.5L421.5 649.3L423.3 649.0L425.0 648.8L426.8 648.5L428.5 648.3L430.3 648.0L432.0 647.8L433.6 647.4L435.2 647.0L436.8 646.6L438.4 646.2L440.0 645.8L441.5 645.0L443.0 644.1L444.5 643.3L446.0 642.5L447.0 641.1L448.1 639.6L449.1 638.2L450.1 636.8L450.5 635.2L450.9 633.5L451.3 631.9L451.8 630.2L452.2 628.6L452.6 627.0L453.0 625.3L453.4 623.7L453.8 621.9L454.1 620.1L454.5 618.2L454.9 616.4L455.2 614.6L455.6 612.8L456.0 610.9L456.3 609.1L456.7 607.3L457.0 605.5L457.2 603.7L457.5 601.8L457.8 600.0L458.1 598.2L458.4 596.4L458.6 594.6L458.9 592.8L459.2 591.0L459.4 589.1L459.7 587.3L460.0 585.5L460.2 583.7L460.3 581.8L460.5 580.0L460.6 578.2L460.8 576.4L460.9 574.5L461.0 572.7L461.1 570.9L461.3 569.1L461.4 567.3L461.5 565.4L461.6 563.6L461.8 561.8L461.9 560.0L462.0 558.1L462.1 556.3L462.3 554.5L462.4 552.7L462.5 550.9L462.6 549.0L462.8 547.2L462.9 545.4L463.0 543.6L463.1 541.8L463.2 539.9L463.3 538.1L463.4 536.3L463.5 534.5L463.6 532.7L463.7 530.8L463.8 529.0L464.0 527.2L464.1 525.4L464.2 523.5L464.3 521.7L464.4 519.9L464.5 518.1L464.6 516.3L464.7 514.4L464.8 512.6L464.9 510.8L465.0 509.0L465.1 507.2L465.1 505.4L465.2 503.6L465.3 501.8L465.4 500.0L465.9 498.4L466.3 496.9L467.0 495.5L469.4 494.8L470.9 495.7L472.5 496.6L473.6 494.7L474.6 492.8L475.0 491.3L475.4 489.9L475.8 488.4L476.6 487.0L477.4 485.6L478.2 484.3L479.0 482.9L479.7 481.2L480.3 479.4L481.0 477.7L481.6 475.9L482.3 474.2L483.0 472.4L483.6 470.7L484.3 468.9L484.9 467.2L485.6 465.4L486.3 464.0L487.1 462.5L487.8 461.1L489.1 459.5L490.5 457.8L491.6 458.9L492.7 460.0L493.8 461.9L494.9 463.8L496.2 464.4L497.6 464.9L498.6 463.7L499.5 462.6L500.5 461.4L501.9 459.6L503.3 457.9L504.2 457.8L505.3 455.9L506.4 454.0L507.7 453.5L509.6 453.4L512.0 452.9L513.6 452.1L515.3 451.3L517.0 450.4L518.6 449.4L520.3 448.5L521.6 449.1L523.0 449.6L524.1 451.3L525.2 452.9L526.3 454.6L527.8 456.1L529.2 457.5L530.7 459.0L532.4 459.5L534.0 460.0L536.1 460.5L538.3 461.1L539.8 461.0L541.2 462.3L542.7 462.2L544.2 462.9L545.6 463.7L547.1 464.4L548.6 464.8L550.0 465.4L551.5 466.6L553.0 466.6L554.4 469.0L555.9 468.8L557.7 470.0L559.5 469.7L561.3 471.5L562.9 470.9L564.6 471.4L566.2 472.9L567.9 472.1L569.8 472.0L571.7 471.8L573.5 472.8L575.4 472.4L577.3 472.7L579.2 473.0L581.0 473.0L582.9 472.8L584.7 474.1L586.6 473.4L588.4 473.7L590.2 472.9L592.1 473.1L593.9 473.7L595.8 472.9L597.6 472.2L599.4 471.9L601.3 472.4L603.1 471.2L605.0 470.5L606.8 470.7L608.6 470.6L610.5 469.3L612.3 470.3L614.2 469.9L616.0 469.1L617.8 467.9L619.7 469.1L621.5 468.6L623.4 468.3L625.2 467.6L627.0 467.8L628.9 466.9L630.7 466.6L632.6 466.2L634.4 466.1L636.2 466.6L638.1 466.4L639.9 466.1L641.8 464.7L643.6 465.3L645.1 464.5L646.7 464.3L648.2 462.6L649.7 463.1L651.3 462.1L652.8 461.5L654.6 460.6L656.5 461.2L658.3 460.7L660.2 460.1L662.0 459.9L663.8 459.0L665.7 458.5L667.5 458.5L669.4 458.4L671.2 458.4"/>
<path stroke="#ff0000" d="M383.6 651.8L385.4 651.7L387.2 651.5L388.9 651.4L390.7 651.3L392.5 651.1L394.3 651.0L396.1 650.9L397.8 650.8L399.6 650.6L401.4 650.5L403.2 650.4L405.1 650.3L406.9 650.1L408.8 650.0L410.6 649.9L412.4 649.8L414.3 649.7L416.1 649.5L418.0 649.4L419.8 649.3L421.5 649.2L423.3 649.2L425.0 649.1L426.8 648.7L428.6 648.3L430.3 647.9L432.1 647.5L434.0 646.8L435.9 646.1L437.5 645.8L439.2 645.4L440.5 644.4L441.9 643.3L443.2 642.2L444.5 641.2L445.6 639.9L446.6 638.6L447.6 637.3L448.7 636.0L449.3 634.3L449.9 632.5L450.4 630.8L451.0 629.1L451.8 627.0L452.1 625.2L452.5 623.5L452.8 621.7L453.1 619.9L453.5 618.1L453.8 616.3L454.2 614.6L454.5 612.8L454.8 611.0L455.1 609.2L455.4 607.3L455.7 605.5L456.0 603.7L456.3 601.9L456.6 600.0L456.9 598.2L457.2 596.4L457.6 594.5L457.9 592.6L458.3 590.7L458.7 588.8L459.0 586.9L459.4 585.0L459.5 583.2L459.7 581.4L459.8 579.6L459.9 577.8L460.0 576.0L460.2 574.2L460.3 572.4L460.4 570.6L460.5 568.8L460.7 567.0L460.8 565.2L460.9 563.4L461.1 561.6L461.2 559.8L461.3 558.0L461.4 556.2L461.6 554.4L461.7 552.6L461.8 550.8L461.9 549.0L462.1 547.2L462.2 545.4L462.3 543.6L462.4 541.8L462.5 539.9L462.6 538.1L462.7 536.3L462.8 534.5L462.9 532.7L463.0 530.8L463.1 529.0L463.3 527.2L463.4 525.4L463.5 523.5L463.6 521.7L463.7 519.9L463.8 518.1L463.9 516.3L464.0 514.4L464.1 512.6L464.2 510.8L464.2 509.0L464.2 507.2L464.2 505.4L464.3 503.6L464.3 501.8L464.3 500.0L464.4 498.3L464.5 496.6L464.6 494.9L464.7 493.2L464.9 491.4L465.0 489.7L465.1 488.0L465.2 486.3L465.3 484.6L465.4 482.9L465.8 481.1L466.2 479.4L466.6 477.6L467.0 475.8L468.6 477.2L470.3 478.6L471.2 479.9L472.1 481.1L473.0 482.4L474.0 480.9L474.9 479.4L475.9 477.9L476.9 476.4L477.5 474.9L478.2 473.3L478.8 471.8L479.5 470.2L480.1 468.7L480.7 467.1L481.2 465.4L481.8 463.8L482.3 462.2L482.8 460.5L483.4 458.9L484.2 457.2L485.0 455.6L485.9 453.9L486.7 452.3L487.6 450.9L488.5 449.4L489.4 448.0L491.6 449.0L492.3 450.8L493.1 452.7L493.8 454.5L494.4 456.1L494.9 457.8L495.4 459.5L496.0 461.1L497.1 463.0L498.2 464.9L500.0 463.9L502.0 463.3L503.2 462.2L504.4 461.1L506.4 460.0L507.4 458.6L508.3 457.1L509.3 455.7L511.2 456.2L513.1 456.8L514.8 457.1L516.4 457.3L517.5 455.6L518.6 454.0L520.2 454.9L521.9 455.7L523.4 456.8L524.8 457.9L526.3 459.0L527.8 460.1L529.2 461.1L530.7 462.2L532.4 463.6L534.0 465.0L535.0 464.4L536.1 462.8L537.8 462.8L539.4 463.9L541.6 464.6L543.8 463.9L545.3 465.2L546.7 466.0L548.2 466.6L549.7 467.2L551.1 468.3L552.6 468.8L554.4 469.9L556.2 470.9L558.0 471.0L559.8 472.3L561.7 471.1L563.5 472.1L565.1 471.1L566.8 472.2L568.4 470.4L570.0 471.4L571.8 472.1L573.7 470.9L575.5 470.4L577.4 470.8L579.2 471.4L581.0 471.1L582.9 470.1L584.7 471.5L586.6 471.5L588.4 470.7L590.2 470.2L592.1 470.2L593.9 469.4L595.8 470.2L597.6 469.1L599.4 469.0L601.3 468.9L603.1 468.6L605.0 468.9L606.8 467.6L608.6 466.2L610.5 467.5L612.3 466.4L614.2 465.6L616.0 466.1L617.8 466.6L619.7 464.7L621.5 464.9L623.4 465.2L625.2 464.5L627.0 464.8L628.9 463.1L630.7 463.3L632.6 462.8L634.4 463.0L636.2 462.9L638.1 463.2L639.9 461.7L641.8 462.1L643.6 461.5L645.4 462.1L647.3 461.5L649.1 460.5L651.0 460.4L652.8 459.9L654.6 458.9L656.5 458.6L658.3 458.8L660.2 459.2L662.0 458.4L663.8 457.6L665.7 457.1L667.5 456.7L669.4 456.5L671.2 456.9"/>
</g>
<rect x="383.2" y="380.6" width="289.1" height="272.4" fill="none" stroke="#8a8a8a" stroke-width="1"/>
<line x1="383.2" y1="653.0" x2="383.2" y2="657.2" stroke="#777" stroke-width="0.8"/>
<text x="383.2" y="668.7" font-size="9.00" text-anchor="middle" font-weight="normal" fill="#2b2b2b" textLength="23.6" lengthAdjust="spacingAndGlyphs">8,960</text>
<line x1="419.3" y1="653.0" x2="419.3" y2="657.2" stroke="#777" stroke-width="0.8"/>
<text x="419.3" y="668.7" font-size="9.00" text-anchor="middle" font-weight="normal" fill="#2b2b2b" textLength="23.6" lengthAdjust="spacingAndGlyphs">8,970</text>
<line x1="455.5" y1="653.0" x2="455.5" y2="657.2" stroke="#777" stroke-width="0.8"/>
<text x="455.5" y="668.7" font-size="9.00" text-anchor="middle" font-weight="normal" fill="#2b2b2b" textLength="23.6" lengthAdjust="spacingAndGlyphs">8,980</text>
<line x1="491.6" y1="653.0" x2="491.6" y2="657.2" stroke="#777" stroke-width="0.8"/>
<text x="491.6" y="668.7" font-size="9.00" text-anchor="middle" font-weight="normal" fill="#2b2b2b" textLength="23.6" lengthAdjust="spacingAndGlyphs">8,990</text>
<line x1="527.8" y1="653.0" x2="527.8" y2="657.2" stroke="#777" stroke-width="0.8"/>
<text x="527.8" y="668.7" font-size="9.00" text-anchor="middle" font-weight="normal" fill="#2b2b2b" textLength="23.6" lengthAdjust="spacingAndGlyphs">9,000</text>
<line x1="563.9" y1="653.0" x2="563.9" y2="657.2" stroke="#777" stroke-width="0.8"/>
<text x="563.9" y="668.7" font-size="9.00" text-anchor="middle" font-weight="normal" fill="#2b2b2b" textLength="23.6" lengthAdjust="spacingAndGlyphs">9,010</text>
<line x1="600.0" y1="653.0" x2="600.0" y2="657.2" stroke="#777" stroke-width="0.8"/>
<text x="600.0" y="668.7" font-size="9.00" text-anchor="middle" font-weight="normal" fill="#2b2b2b" textLength="23.6" lengthAdjust="spacingAndGlyphs">9,020</text>
<line x1="636.2" y1="653.0" x2="636.2" y2="657.2" stroke="#777" stroke-width="0.8"/>
<text x="636.2" y="668.7" font-size="9.00" text-anchor="middle" font-weight="normal" fill="#2b2b2b" textLength="23.6" lengthAdjust="spacingAndGlyphs">9,030</text>
<line x1="672.3" y1="653.0" x2="672.3" y2="657.2" stroke="#777" stroke-width="0.8"/>
<text x="672.3" y="668.7" font-size="9.00" text-anchor="middle" font-weight="normal" fill="#2b2b2b" textLength="23.6" lengthAdjust="spacingAndGlyphs">9,040</text>
<text x="527.8" y="683.6" font-size="10.00" text-anchor="middle" font-weight="normal" fill="#2b2b2b" textLength="55.5" lengthAdjust="spacingAndGlyphs">Energy (eV)</text>
<text transform="translate(372.0 517.1) rotate(-90)" font-size="10" text-anchor="middle" fill="#2b2b2b" textLength="79.7" lengthAdjust="spacingAndGlyphs">Absorption (a.u.)</text>
<rect x="513.3" y="523.4" width="86.8" height="81.6" fill="#fff" stroke="none"/>
<clipPath id="cdi"><rect x="513.3" y="523.4" width="86.8" height="81.6"/></clipPath>
<g clip-path="url(#cdi)" fill="none" stroke-width="1.55" stroke-linejoin="round" stroke-linecap="round">
<path stroke="#0000ff" d="M513.4 597.9L521.7 597.2L529.8 596.6L535.2 595.2L541.9 595.2L545.9 592.5L551.3 593.2L558.0 591.2L563.4 587.2L568.8 585.8L574.1 580.4L580.8 577.8L584.9 579.1L588.9 579.8L594.3 575.7L600.0 573.1L602.0 572.0"/>
<path stroke="#00f6ff" d="M513.4 597.2L524.4 595.9L537.9 593.2L545.9 591.9L554.0 589.8L563.4 584.5L570.1 579.1L576.8 573.1L580.8 572.4L586.2 573.7L591.6 571.7L595.6 567.0L600.0 557.6L602.0 554.0"/>
<path stroke="#00f000" d="M513.4 594.5L520.4 593.9L529.8 590.5L537.9 588.5L545.9 586.5L554.0 584.5L562.0 578.4L570.1 572.4L578.2 564.3L584.9 558.3L590.2 546.9L594.3 536.1L597.6 523.4L598.5 519.0"/>
<path stroke="#808000" d="M513.4 593.9L524.4 591.2L537.9 587.8L547.3 584.5L556.7 579.8L563.4 577.1L570.1 569.0L576.8 561.6L582.2 553.6L586.2 541.5L589.6 528.1L591.6 523.4L592.5 519.0"/>
<path stroke="#ff8000" d="M513.4 593.2L524.4 590.5L537.9 587.2L545.9 583.1L555.3 579.1L563.4 575.1L570.1 567.0L576.8 559.0L582.2 548.9L586.2 536.1L589.6 523.4L590.2 519.0"/>
<path stroke="#ff0000" d="M513.4 592.5L521.7 589.6L529.8 587.2L536.5 585.5L545.9 581.1L552.6 578.4L558.0 576.4L563.4 573.1L568.8 565.7L575.5 556.3L579.5 548.2L583.5 537.5L586.9 523.4L587.5 519.0"/>
</g>
<rect x="513.3" y="523.4" width="86.8" height="81.6" fill="none" stroke="#6a6a6a" stroke-width="0.9"/>
<line x1="513.3" y1="605.0" x2="513.3" y2="608.8" stroke="#777" stroke-width="0.8"/>
<text x="513.3" y="620.8" font-size="9.00" text-anchor="middle" font-weight="normal" fill="#2b2b2b" textLength="23.6" lengthAdjust="spacingAndGlyphs">8,970</text>
<line x1="556.7" y1="605.0" x2="556.7" y2="608.8" stroke="#777" stroke-width="0.8"/>
<text x="556.7" y="620.8" font-size="9.00" text-anchor="middle" font-weight="normal" fill="#2b2b2b" textLength="23.6" lengthAdjust="spacingAndGlyphs">8,975</text>
<line x1="600.1" y1="605.0" x2="600.1" y2="608.8" stroke="#777" stroke-width="0.8"/>
<text x="600.1" y="620.8" font-size="9.00" text-anchor="middle" font-weight="normal" fill="#2b2b2b" textLength="23.6" lengthAdjust="spacingAndGlyphs">8,980</text>
<line x1="626.0" y1="595.4" x2="634.3" y2="595.4" stroke="#2020ff" stroke-width="1.1"/>
<text x="637.7" y="598.0" font-size="9.50" text-anchor="start" font-weight="normal" fill="#2b2b2b">29 °C</text>
<line x1="626.0" y1="605.7" x2="634.3" y2="605.7" stroke="#50faff" stroke-width="1.1"/>
<text x="637.7" y="608.3" font-size="9.50" text-anchor="start" font-weight="normal" fill="#2b2b2b">103 °C</text>
<line x1="626.0" y1="616.0" x2="634.3" y2="616.0" stroke="#50f550" stroke-width="1.1"/>
<text x="637.7" y="618.6" font-size="9.50" text-anchor="start" font-weight="normal" fill="#2b2b2b">207 °C</text>
<line x1="626.0" y1="626.4" x2="634.3" y2="626.4" stroke="#80802a" stroke-width="1.1"/>
<text x="637.7" y="629.0" font-size="9.50" text-anchor="start" font-weight="normal" fill="#2b2b2b">302 °C</text>
<line x1="626.0" y1="636.7" x2="634.3" y2="636.7" stroke="#ff9a3c" stroke-width="1.1"/>
<text x="637.7" y="639.3" font-size="9.50" text-anchor="start" font-weight="normal" fill="#2b2b2b">407 °C</text>
<line x1="626.0" y1="647.0" x2="634.3" y2="647.0" stroke="#ff3030" stroke-width="1.1"/>
<text x="637.7" y="649.6" font-size="9.50" text-anchor="start" font-weight="normal" fill="#2b2b2b">493 °C</text>
</svg>
</body></html>
